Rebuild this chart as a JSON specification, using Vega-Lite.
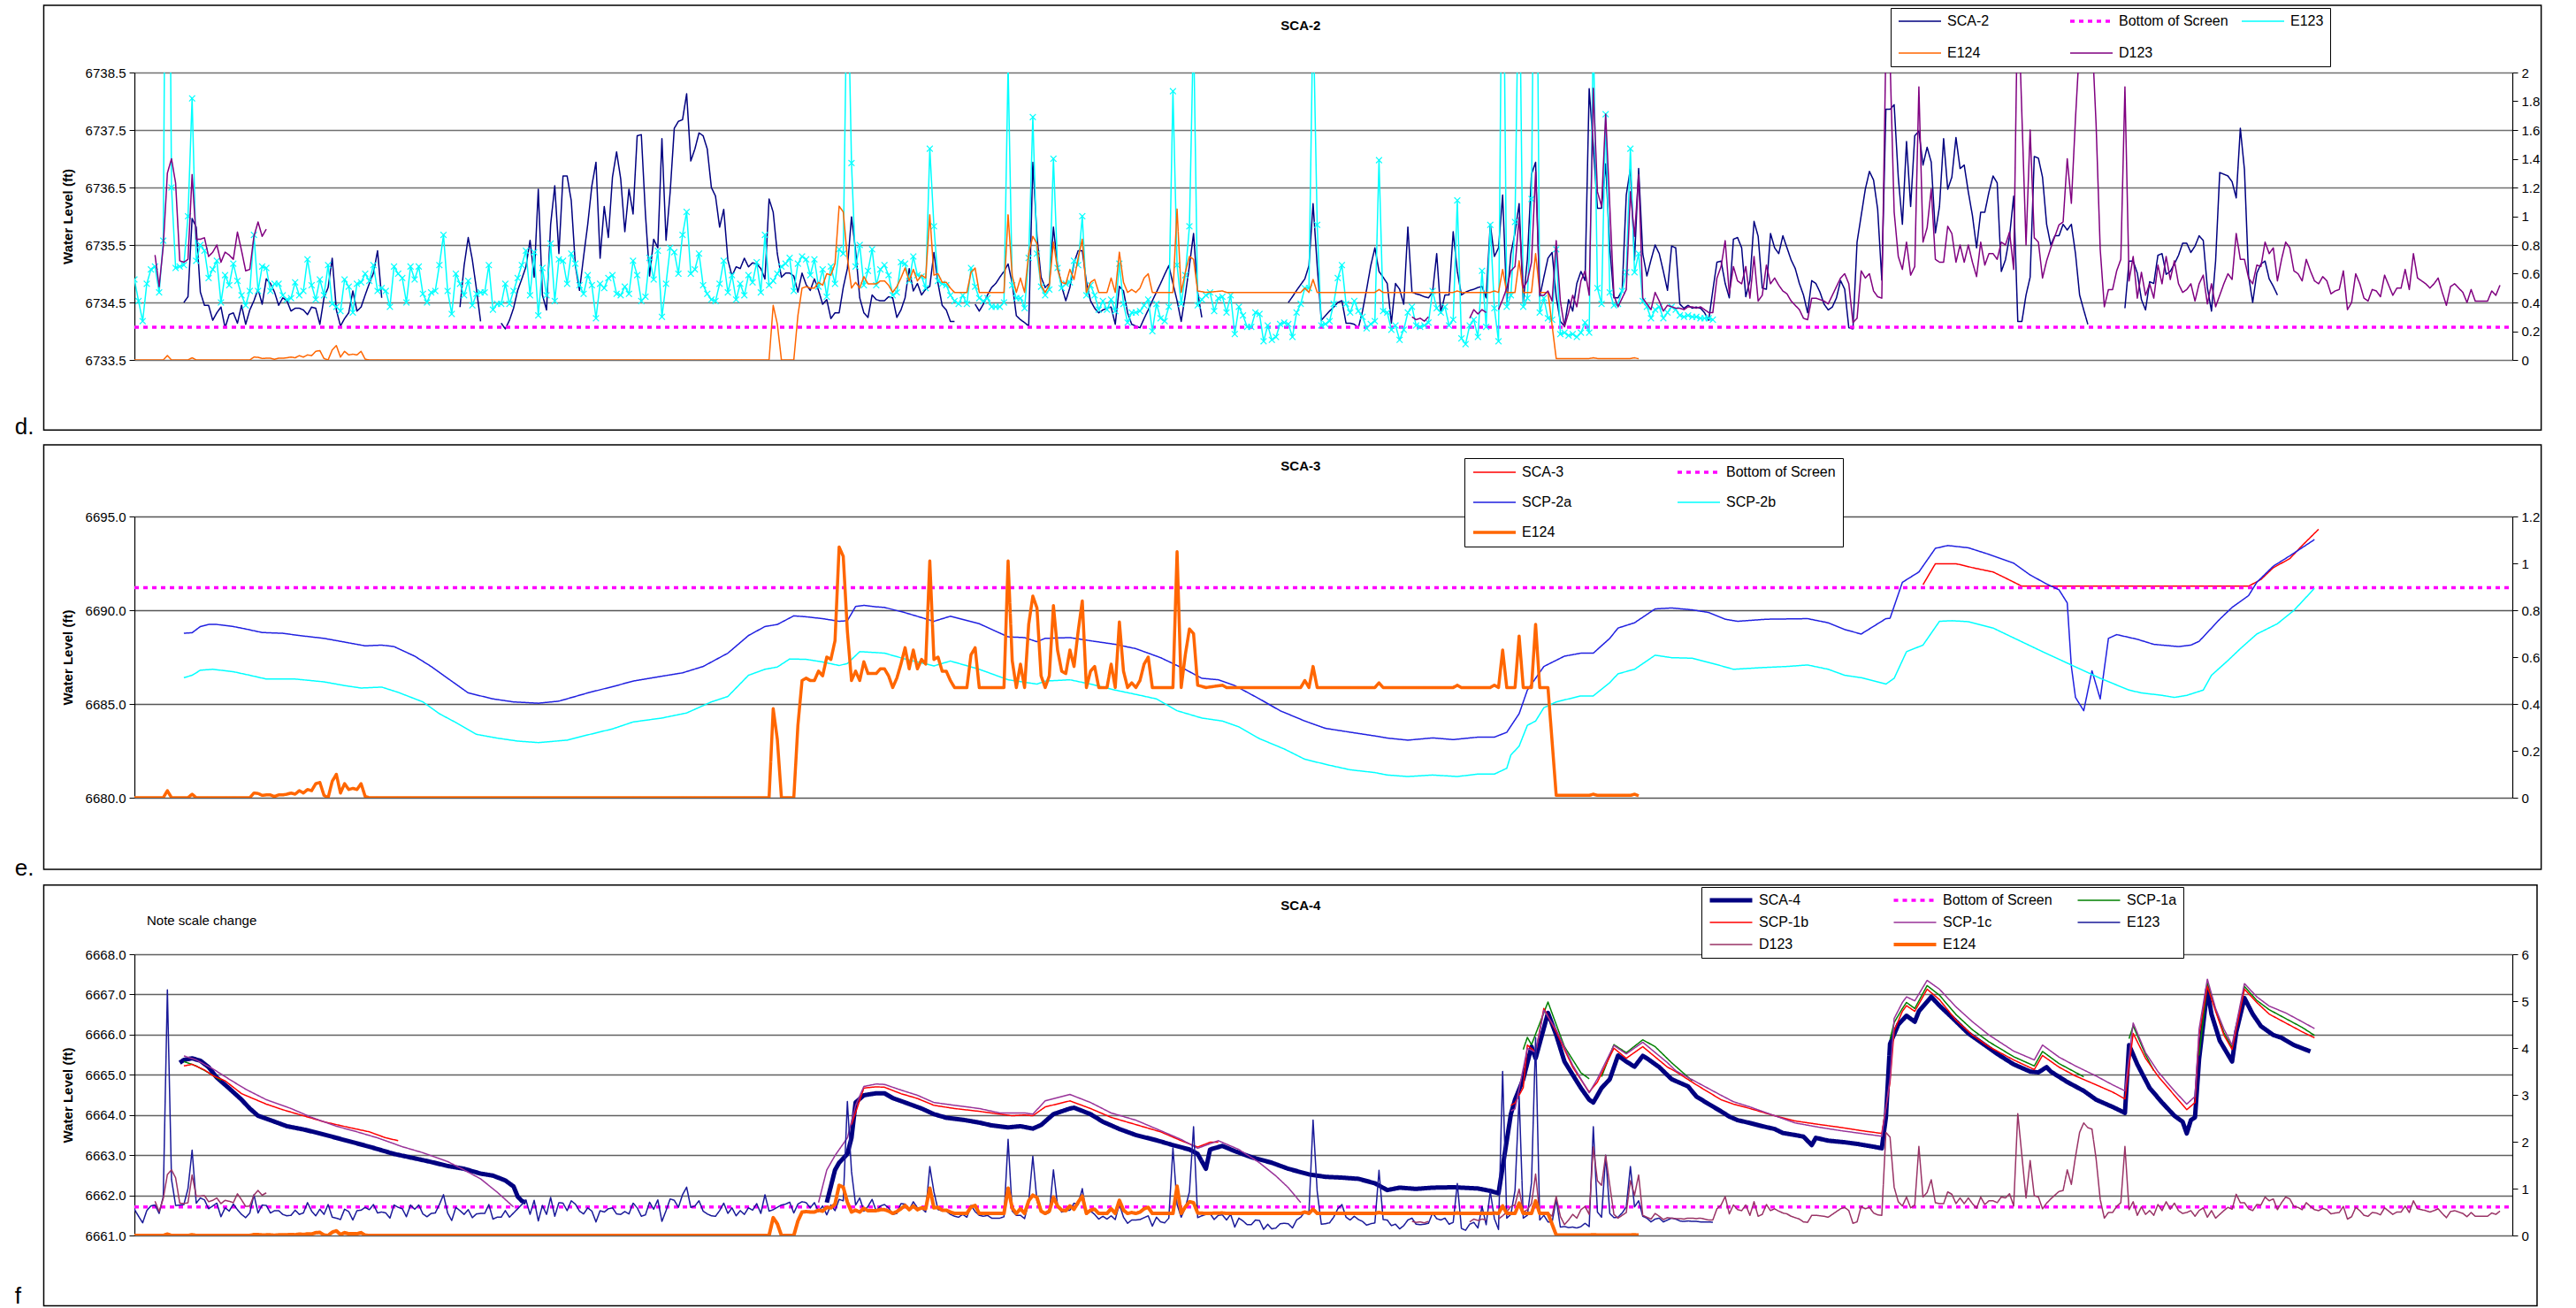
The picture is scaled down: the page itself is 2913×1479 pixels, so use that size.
{
"$schema":"https://vega.github.io/schema/vega-lite/v6.json",
"padding":{"left":16,"top":5,"right":5,"bottom":0},
"background":"white",
"spacing":177,
"bounds":"flush",
"resolve":{"scale":{"color":"independent","strokeDash":"independent","strokeWidth":"independent"},"legend":{"color":"independent","strokeDash":"independent","strokeWidth":"independent"}},
"datasets":{
"E123":[{"d":"2006-10-01","E123":0.56},{"d":"2006-10-02","E123":0.41},{"d":"2006-10-03","E123":0.27},{"d":"2006-10-04","E123":0.53},{"d":"2006-10-05","E123":0.63},{"d":"2006-10-06","E123":0.65},{"d":"2006-10-07","E123":0.47},{"d":"2006-10-08","E123":0.83},{"d":"2006-10-09","E123":5.24},{"d":"2006-10-10","E123":1.2},{"d":"2006-10-11","E123":0.64},{"d":"2006-10-12","E123":0.65},{"d":"2006-10-13","E123":0.66},{"d":"2006-10-14","E123":1.0},{"d":"2006-10-15","E123":1.82},{"d":"2006-10-16","E123":0.69},{"d":"2006-10-17","E123":0.8},{"d":"2006-10-18","E123":0.76},{"d":"2006-10-19","E123":0.57},{"d":"2006-10-20","E123":0.63},{"d":"2006-10-21","E123":0.69},{"d":"2006-10-22","E123":0.4},{"d":"2006-10-23","E123":0.59},{"d":"2006-10-24","E123":0.52},{"d":"2006-10-25","E123":0.67},{"d":"2006-10-26","E123":0.55},{"d":"2006-10-27","E123":0.45},{"d":"2006-10-28","E123":0.38},{"d":"2006-10-29","E123":0.48},{"d":"2006-10-30","E123":0.87},{"d":"2006-10-31","E123":0.48},{"d":"2006-11-01","E123":0.65},{"d":"2006-11-02","E123":0.64},{"d":"2006-11-03","E123":0.48},{"d":"2006-11-04","E123":0.53},{"d":"2006-11-05","E123":0.53},{"d":"2006-11-06","E123":0.45},{"d":"2006-11-07","E123":0.42},{"d":"2006-11-08","E123":0.43},{"d":"2006-11-09","E123":0.54},{"d":"2006-11-10","E123":0.45},{"d":"2006-11-11","E123":0.48},{"d":"2006-11-12","E123":0.7},{"d":"2006-11-13","E123":0.52},{"d":"2006-11-14","E123":0.42},{"d":"2006-11-15","E123":0.56},{"d":"2006-11-16","E123":0.45},{"d":"2006-11-17","E123":0.66},{"d":"2006-11-18","E123":0.39},{"d":"2006-11-19","E123":0.37},{"d":"2006-11-20","E123":0.34},{"d":"2006-11-21","E123":0.56},{"d":"2006-11-22","E123":0.51},{"d":"2006-11-23","E123":0.33},{"d":"2006-11-24","E123":0.53},{"d":"2006-11-25","E123":0.54},{"d":"2006-11-26","E123":0.6},{"d":"2006-11-27","E123":0.55},{"d":"2006-11-28","E123":0.66},{"d":"2006-11-29","E123":0.48},{"d":"2006-11-30","E123":0.5},{"d":"2006-12-01","E123":0.48},{"d":"2006-12-02","E123":0.37},{"d":"2006-12-03","E123":0.65},{"d":"2006-12-04","E123":0.6},{"d":"2006-12-05","E123":0.57},{"d":"2006-12-06","E123":0.4},{"d":"2006-12-07","E123":0.65},{"d":"2006-12-08","E123":0.56},{"d":"2006-12-09","E123":0.65},{"d":"2006-12-10","E123":0.46},{"d":"2006-12-11","E123":0.4},{"d":"2006-12-12","E123":0.47},{"d":"2006-12-13","E123":0.48},{"d":"2006-12-14","E123":0.66},{"d":"2006-12-15","E123":0.87},{"d":"2006-12-16","E123":0.48},{"d":"2006-12-17","E123":0.32},{"d":"2006-12-18","E123":0.6},{"d":"2006-12-19","E123":0.53},{"d":"2006-12-20","E123":0.45},{"d":"2006-12-21","E123":0.55},{"d":"2006-12-22","E123":0.38},{"d":"2006-12-23","E123":0.46},{"d":"2006-12-24","E123":0.47},{"d":"2006-12-25","E123":0.47},{"d":"2006-12-26","E123":0.66},{"d":"2006-12-27","E123":0.35},{"d":"2006-12-28","E123":0.39},{"d":"2006-12-29","E123":0.39},{"d":"2006-12-30","E123":0.53},{"d":"2006-12-31","E123":0.39},{"d":"2007-01-01","E123":0.48},{"d":"2007-01-02","E123":0.57},{"d":"2007-01-03","E123":0.66},{"d":"2007-01-04","E123":0.76},{"d":"2007-01-05","E123":0.45},{"d":"2007-01-06","E123":0.75},{"d":"2007-01-07","E123":0.31},{"d":"2007-01-08","E123":0.64},{"d":"2007-01-09","E123":0.45},{"d":"2007-01-10","E123":0.81},{"d":"2007-01-11","E123":0.41},{"d":"2007-01-12","E123":0.7},{"d":"2007-01-13","E123":0.69},{"d":"2007-01-14","E123":0.53},{"d":"2007-01-15","E123":0.74},{"d":"2007-01-16","E123":0.67},{"d":"2007-01-17","E123":0.52},{"d":"2007-01-18","E123":0.46},{"d":"2007-01-19","E123":0.59},{"d":"2007-01-20","E123":0.52},{"d":"2007-01-21","E123":0.29},{"d":"2007-01-22","E123":0.53},{"d":"2007-01-23","E123":0.5},{"d":"2007-01-24","E123":0.57},{"d":"2007-01-25","E123":0.59},{"d":"2007-01-26","E123":0.46},{"d":"2007-01-27","E123":0.45},{"d":"2007-01-28","E123":0.51},{"d":"2007-01-29","E123":0.46},{"d":"2007-01-30","E123":0.69},{"d":"2007-01-31","E123":0.59},{"d":"2007-02-01","E123":0.41},{"d":"2007-02-02","E123":0.44},{"d":"2007-02-03","E123":0.71},{"d":"2007-02-04","E123":0.56},{"d":"2007-02-05","E123":0.76},{"d":"2007-02-06","E123":0.3},{"d":"2007-02-07","E123":0.53},{"d":"2007-02-08","E123":0.78},{"d":"2007-02-09","E123":0.75},{"d":"2007-02-10","E123":0.6},{"d":"2007-02-11","E123":0.87},{"d":"2007-02-12","E123":1.03},{"d":"2007-02-13","E123":0.6},{"d":"2007-02-14","E123":0.63},{"d":"2007-02-15","E123":0.74},{"d":"2007-02-16","E123":0.52},{"d":"2007-02-17","E123":0.46},{"d":"2007-02-18","E123":0.42},{"d":"2007-02-19","E123":0.41},{"d":"2007-02-20","E123":0.53},{"d":"2007-02-21","E123":0.69},{"d":"2007-02-22","E123":0.47},{"d":"2007-02-23","E123":0.59},{"d":"2007-02-24","E123":0.42},{"d":"2007-02-25","E123":0.53},{"d":"2007-02-26","E123":0.45},{"d":"2007-02-27","E123":0.59},{"d":"2007-02-28","E123":0.54},{"d":"2007-03-01","E123":0.68},{"d":"2007-03-02","E123":0.47},{"d":"2007-03-03","E123":0.87},{"d":"2007-03-04","E123":0.52},{"d":"2007-03-05","E123":0.55},{"d":"2007-03-06","E123":0.6},{"d":"2007-03-07","E123":0.65},{"d":"2007-03-08","E123":0.67},{"d":"2007-03-09","E123":0.71},{"d":"2007-03-10","E123":0.48},{"d":"2007-03-11","E123":0.67},{"d":"2007-03-12","E123":0.72},{"d":"2007-03-13","E123":0.7},{"d":"2007-03-14","E123":0.59},{"d":"2007-03-15","E123":0.7},{"d":"2007-03-16","E123":0.51},{"d":"2007-03-17","E123":0.63},{"d":"2007-03-18","E123":0.44},{"d":"2007-03-19","E123":0.65},{"d":"2007-03-20","E123":0.53},{"d":"2007-03-21","E123":0.77},{"d":"2007-03-22","E123":0.74},{"d":"2007-03-23","E123":2.86},{"d":"2007-03-24","E123":1.37},{"d":"2007-03-25","E123":0.65},{"d":"2007-03-26","E123":0.8},{"d":"2007-03-27","E123":0.52},{"d":"2007-03-28","E123":0.62},{"d":"2007-03-29","E123":0.77},{"d":"2007-03-30","E123":0.52},{"d":"2007-03-31","E123":0.63},{"d":"2007-04-01","E123":0.66},{"d":"2007-04-02","E123":0.59},{"d":"2007-04-03","E123":0.45},{"d":"2007-04-04","E123":0.47},{"d":"2007-04-05","E123":0.68},{"d":"2007-04-06","E123":0.67},{"d":"2007-04-07","E123":0.55},{"d":"2007-04-08","E123":0.72},{"d":"2007-04-09","E123":0.59},{"d":"2007-04-10","E123":0.58},{"d":"2007-04-11","E123":0.5},{"d":"2007-04-12","E123":1.47},{"d":"2007-04-13","E123":0.93},{"d":"2007-04-14","E123":0.55},{"d":"2007-04-15","E123":0.53},{"d":"2007-04-16","E123":0.52},{"d":"2007-04-17","E123":0.45},{"d":"2007-04-18","E123":0.41},{"d":"2007-04-19","E123":0.39},{"d":"2007-04-20","E123":0.45},{"d":"2007-04-21","E123":0.39},{"d":"2007-04-22","E123":0.64},{"d":"2007-04-23","E123":0.51},{"d":"2007-04-24","E123":0.43},{"d":"2007-04-25","E123":0.41},{"d":"2007-04-26","E123":0.43},{"d":"2007-04-27","E123":0.37},{"d":"2007-04-28","E123":0.37},{"d":"2007-04-29","E123":0.37},{"d":"2007-04-30","E123":0.4},{"d":"2007-05-01","E123":2.05},{"d":"2007-05-02","E123":0.52},{"d":"2007-05-03","E123":0.43},{"d":"2007-05-04","E123":0.43},{"d":"2007-05-05","E123":0.36},{"d":"2007-05-06","E123":0.71},{"d":"2007-05-07","E123":1.69},{"d":"2007-05-08","E123":0.74},{"d":"2007-05-09","E123":0.51},{"d":"2007-05-10","E123":0.45},{"d":"2007-05-11","E123":0.49},{"d":"2007-05-12","E123":1.4},{"d":"2007-05-13","E123":0.64},{"d":"2007-05-14","E123":0.5},{"d":"2007-05-15","E123":0.53},{"d":"2007-05-16","E123":0.54},{"d":"2007-05-17","E123":0.69},{"d":"2007-05-18","E123":0.66},{"d":"2007-05-19","E123":1.0},{"d":"2007-05-20","E123":0.45},{"d":"2007-05-21","E123":0.52},{"d":"2007-05-22","E123":0.45},{"d":"2007-05-23","E123":0.35},{"d":"2007-05-24","E123":0.41},{"d":"2007-05-25","E123":0.35},{"d":"2007-05-26","E123":0.42},{"d":"2007-05-27","E123":0.34},{"d":"2007-05-28","E123":0.67},{"d":"2007-05-29","E123":0.39},{"d":"2007-05-30","E123":0.26},{"d":"2007-05-31","E123":0.33},{"d":"2007-06-01","E123":0.33},{"d":"2007-06-02","E123":0.34},{"d":"2007-06-03","E123":0.38},{"d":"2007-06-04","E123":0.42},{"d":"2007-06-05","E123":0.2},{"d":"2007-06-06","E123":0.39},{"d":"2007-06-07","E123":0.29},{"d":"2007-06-08","E123":0.27},{"d":"2007-06-09","E123":0.37},{"d":"2007-06-10","E123":1.87},{"d":"2007-06-11","E123":0.66},{"d":"2007-06-12","E123":0.39},{"d":"2007-06-13","E123":0.59},{"d":"2007-06-14","E123":0.93},{"d":"2007-06-15","E123":2.32},{"d":"2007-06-16","E123":0.38},{"d":"2007-06-17","E123":0.42},{"d":"2007-06-18","E123":0.45},{"d":"2007-06-19","E123":0.47},{"d":"2007-06-20","E123":0.34},{"d":"2007-06-21","E123":0.43},{"d":"2007-06-22","E123":0.44},{"d":"2007-06-23","E123":0.33},{"d":"2007-06-24","E123":0.45},{"d":"2007-06-25","E123":0.18},{"d":"2007-06-26","E123":0.37},{"d":"2007-06-27","E123":0.31},{"d":"2007-06-28","E123":0.23},{"d":"2007-06-29","E123":0.23},{"d":"2007-06-30","E123":0.33},{"d":"2007-07-01","E123":0.32},{"d":"2007-07-02","E123":0.13},{"d":"2007-07-03","E123":0.24},{"d":"2007-07-04","E123":0.14},{"d":"2007-07-05","E123":0.16},{"d":"2007-07-06","E123":0.25},{"d":"2007-07-07","E123":0.26},{"d":"2007-07-08","E123":0.25},{"d":"2007-07-09","E123":0.16},{"d":"2007-07-10","E123":0.33},{"d":"2007-07-11","E123":0.39},{"d":"2007-07-12","E123":0.5},{"d":"2007-07-13","E123":0.5},{"d":"2007-07-14","E123":2.46},{"d":"2007-07-15","E123":0.94},{"d":"2007-07-16","E123":0.24},{"d":"2007-07-17","E123":0.25},{"d":"2007-07-18","E123":0.27},{"d":"2007-07-19","E123":0.39},{"d":"2007-07-20","E123":0.57},{"d":"2007-07-21","E123":0.66},{"d":"2007-07-22","E123":0.39},{"d":"2007-07-23","E123":0.33},{"d":"2007-07-24","E123":0.41},{"d":"2007-07-25","E123":0.34},{"d":"2007-07-26","E123":0.3},{"d":"2007-07-27","E123":0.22},{"d":"2007-07-28","E123":0.25},{"d":"2007-07-29","E123":0.27},{"d":"2007-07-30","E123":1.39},{"d":"2007-07-31","E123":0.34},{"d":"2007-08-01","E123":0.33},{"d":"2007-08-02","E123":0.21},{"d":"2007-08-03","E123":0.24},{"d":"2007-08-04","E123":0.14},{"d":"2007-08-05","E123":0.21},{"d":"2007-08-06","E123":0.33},{"d":"2007-08-07","E123":0.37},{"d":"2007-08-08","E123":0.24},{"d":"2007-08-09","E123":0.23},{"d":"2007-08-10","E123":0.24},{"d":"2007-08-11","E123":0.26},{"d":"2007-08-12","E123":0.48},{"d":"2007-08-13","E123":0.36},{"d":"2007-08-14","E123":0.33},{"d":"2007-08-15","E123":0.37},{"d":"2007-08-16","E123":0.24},{"d":"2007-08-17","E123":0.28},{"d":"2007-08-18","E123":1.11},{"d":"2007-08-19","E123":0.15},{"d":"2007-08-20","E123":0.11},{"d":"2007-08-21","E123":0.24},{"d":"2007-08-22","E123":0.28},{"d":"2007-08-23","E123":0.16},{"d":"2007-08-24","E123":0.62},{"d":"2007-08-25","E123":0.23},{"d":"2007-08-26","E123":0.94},{"d":"2007-08-27","E123":0.36},{"d":"2007-08-28","E123":0.13},{"d":"2007-08-29","E123":3.5},{"d":"2007-08-30","E123":0.37},{"d":"2007-08-31","E123":0.45},{"d":"2007-09-01","E123":0.96},{"d":"2007-09-02","E123":2.97},{"d":"2007-09-03","E123":0.37},{"d":"2007-09-04","E123":0.43},{"d":"2007-09-05","E123":1.12},{"d":"2007-09-06","E123":4.22},{"d":"2007-09-07","E123":0.33},{"d":"2007-09-08","E123":0.43},{"d":"2007-09-09","E123":0.29},{"d":"2007-09-10","E123":0.28},{"d":"2007-09-11","E123":0.77},{"d":"2007-09-12","E123":0.18},{"d":"2007-09-13","E123":0.19},{"d":"2007-09-14","E123":0.17},{"d":"2007-09-15","E123":0.18},{"d":"2007-09-16","E123":0.16},{"d":"2007-09-17","E123":0.19},{"d":"2007-09-18","E123":0.26},{"d":"2007-09-19","E123":0.19},{"d":"2007-09-20","E123":2.32},{"d":"2007-09-21","E123":0.5},{"d":"2007-09-22","E123":0.39},{"d":"2007-09-23","E123":1.71},{"d":"2007-09-24","E123":0.47},{"d":"2007-09-25","E123":0.38},{"d":"2007-09-26","E123":0.39},{"d":"2007-09-27","E123":0.48},{"d":"2007-09-28","E123":0.61},{"d":"2007-09-29","E123":1.47},{"d":"2007-09-30","E123":0.61},{"d":"2007-10-01","E123":0.74},{"d":"2007-10-02","E123":0.41},{"d":"2007-10-03","E123":0.37},{"d":"2007-10-04","E123":0.29},{"d":"2007-10-05","E123":0.35},{"d":"2007-10-06","E123":0.37},{"d":"2007-10-07","E123":0.29},{"d":"2007-10-08","E123":0.33},{"d":"2007-10-09","E123":0.37},{"d":"2007-10-10","E123":0.35},{"d":"2007-10-11","E123":0.31},{"d":"2007-10-12","E123":0.3},{"d":"2007-10-13","E123":0.31},{"d":"2007-10-14","E123":0.3},{"d":"2007-10-15","E123":0.3},{"d":"2007-10-16","E123":0.29},{"d":"2007-10-17","E123":0.29},{"d":"2007-10-18","E123":0.29},{"d":"2007-10-19","E123":0.28}],
"E124":[{"d":"2006-10-01","E124":0},{"d":"2006-10-08","E124":0},{"d":"2006-10-09","E124":0.03},{"d":"2006-10-10","E124":0},{"d":"2006-10-14","E124":0},{"d":"2006-10-15","E124":0.015},{"d":"2006-10-16","E124":0},{"d":"2006-10-29","E124":0},{"d":"2006-10-30","E124":0.02},{"d":"2006-10-31","E124":0.018},{"d":"2006-11-01","E124":0.01},{"d":"2006-11-02","E124":0.012},{"d":"2006-11-03","E124":0.012},{"d":"2006-11-04","E124":0.005},{"d":"2006-11-05","E124":0.012},{"d":"2006-11-06","E124":0.012},{"d":"2006-11-07","E124":0.015},{"d":"2006-11-08","E124":0.02},{"d":"2006-11-09","E124":0.015},{"d":"2006-11-10","E124":0.03},{"d":"2006-11-11","E124":0.02},{"d":"2006-11-12","E124":0.035},{"d":"2006-11-13","E124":0.03},{"d":"2006-11-14","E124":0.06},{"d":"2006-11-15","E124":0.065},{"d":"2006-11-16","E124":0.01},{"d":"2006-11-17","E124":0},{"d":"2006-11-18","E124":0.07},{"d":"2006-11-19","E124":0.1},{"d":"2006-11-20","E124":0.02},{"d":"2006-11-21","E124":0.06},{"d":"2006-11-22","E124":0.035},{"d":"2006-11-23","E124":0.04},{"d":"2006-11-24","E124":0.035},{"d":"2006-11-25","E124":0.06},{"d":"2006-11-26","E124":0.005},{"d":"2006-11-27","E124":0},{"d":"2007-03-04","E124":0},{"d":"2007-03-05","E124":0.38},{"d":"2007-03-06","E124":0.25},{"d":"2007-03-07","E124":0},{"d":"2007-03-10","E124":0},{"d":"2007-03-11","E124":0.31},{"d":"2007-03-12","E124":0.5},{"d":"2007-03-13","E124":0.51},{"d":"2007-03-14","E124":0.5},{"d":"2007-03-15","E124":0.5},{"d":"2007-03-16","E124":0.54},{"d":"2007-03-17","E124":0.52},{"d":"2007-03-18","E124":0.6},{"d":"2007-03-19","E124":0.59},{"d":"2007-03-20","E124":0.67},{"d":"2007-03-21","E124":1.07},{"d":"2007-03-22","E124":1.03},{"d":"2007-03-23","E124":0.71},{"d":"2007-03-24","E124":0.5},{"d":"2007-03-25","E124":0.54},{"d":"2007-03-26","E124":0.5},{"d":"2007-03-27","E124":0.58},{"d":"2007-03-28","E124":0.53},{"d":"2007-03-29","E124":0.53},{"d":"2007-03-30","E124":0.53},{"d":"2007-03-31","E124":0.55},{"d":"2007-04-01","E124":0.55},{"d":"2007-04-02","E124":0.52},{"d":"2007-04-03","E124":0.47},{"d":"2007-04-04","E124":0.51},{"d":"2007-04-05","E124":0.57},{"d":"2007-04-06","E124":0.64},{"d":"2007-04-07","E124":0.55},{"d":"2007-04-08","E124":0.63},{"d":"2007-04-09","E124":0.55},{"d":"2007-04-10","E124":0.59},{"d":"2007-04-11","E124":0.57},{"d":"2007-04-12","E124":1.01},{"d":"2007-04-13","E124":0.59},{"d":"2007-04-14","E124":0.6},{"d":"2007-04-15","E124":0.54},{"d":"2007-04-16","E124":0.54},{"d":"2007-04-17","E124":0.5},{"d":"2007-04-18","E124":0.47},{"d":"2007-04-21","E124":0.47},{"d":"2007-04-22","E124":0.61},{"d":"2007-04-23","E124":0.64},{"d":"2007-04-24","E124":0.47},{"d":"2007-04-30","E124":0.47},{"d":"2007-05-01","E124":1.01},{"d":"2007-05-02","E124":0.585},{"d":"2007-05-03","E124":0.47},{"d":"2007-05-04","E124":0.57},{"d":"2007-05-05","E124":0.47},{"d":"2007-05-06","E124":0.74},{"d":"2007-05-07","E124":0.86},{"d":"2007-05-08","E124":0.81},{"d":"2007-05-09","E124":0.52},{"d":"2007-05-10","E124":0.47},{"d":"2007-05-11","E124":0.52},{"d":"2007-05-12","E124":0.82},{"d":"2007-05-13","E124":0.63},{"d":"2007-05-14","E124":0.54},{"d":"2007-05-15","E124":0.53},{"d":"2007-05-16","E124":0.63},{"d":"2007-05-17","E124":0.56},{"d":"2007-05-18","E124":0.71},{"d":"2007-05-19","E124":0.84},{"d":"2007-05-20","E124":0.47},{"d":"2007-05-21","E124":0.54},{"d":"2007-05-22","E124":0.56},{"d":"2007-05-23","E124":0.47},{"d":"2007-05-25","E124":0.47},{"d":"2007-05-26","E124":0.57},{"d":"2007-05-27","E124":0.47},{"d":"2007-05-28","E124":0.75},{"d":"2007-05-29","E124":0.54},{"d":"2007-05-30","E124":0.47},{"d":"2007-05-31","E124":0.49},{"d":"2007-06-01","E124":0.47},{"d":"2007-06-02","E124":0.5},{"d":"2007-06-03","E124":0.57},{"d":"2007-06-04","E124":0.6},{"d":"2007-06-05","E124":0.47},{"d":"2007-06-10","E124":0.47},{"d":"2007-06-11","E124":1.05},{"d":"2007-06-12","E124":0.47},{"d":"2007-06-13","E124":0.61},{"d":"2007-06-14","E124":0.72},{"d":"2007-06-15","E124":0.7},{"d":"2007-06-16","E124":0.48},{"d":"2007-06-18","E124":0.47},{"d":"2007-06-22","E124":0.48},{"d":"2007-06-23","E124":0.47},{"d":"2007-07-11","E124":0.47},{"d":"2007-07-12","E124":0.5},{"d":"2007-07-13","E124":0.47},{"d":"2007-07-14","E124":0.56},{"d":"2007-07-15","E124":0.47},{"d":"2007-07-29","E124":0.47},{"d":"2007-07-30","E124":0.49},{"d":"2007-07-31","E124":0.47},{"d":"2007-08-17","E124":0.47},{"d":"2007-08-18","E124":0.48},{"d":"2007-08-19","E124":0.47},{"d":"2007-08-26","E124":0.47},{"d":"2007-08-27","E124":0.48},{"d":"2007-08-28","E124":0.47},{"d":"2007-08-29","E124":0.63},{"d":"2007-08-30","E124":0.47},{"d":"2007-09-01","E124":0.47},{"d":"2007-09-02","E124":0.69},{"d":"2007-09-03","E124":0.47},{"d":"2007-09-05","E124":0.47},{"d":"2007-09-06","E124":0.74},{"d":"2007-09-07","E124":0.47},{"d":"2007-09-09","E124":0.47},{"d":"2007-09-11","E124":0.01},{"d":"2007-09-19","E124":0.01},{"d":"2007-09-20","E124":0.015},{"d":"2007-09-21","E124":0.01},{"d":"2007-09-29","E124":0.01},{"d":"2007-09-30","E124":0.015},{"d":"2007-10-01","E124":0.008}],
"D123":[{"d":"2006-10-06","D123":0.73},{"d":"2006-10-07","D123":0.51},{"d":"2006-10-08","D123":0.79},{"d":"2006-10-09","D123":1.3},{"d":"2006-10-10","D123":1.4},{"d":"2006-10-11","D123":1.23},{"d":"2006-10-12","D123":0.69},{"d":"2006-10-13","D123":0.68},{"d":"2006-10-14","D123":0.7},{"d":"2006-10-15","D123":1.29},{"d":"2006-10-16","D123":0.84},{"d":"2006-10-17","D123":0.84},{"d":"2006-10-18","D123":0.85},{"d":"2006-10-19","D123":0.72},{"d":"2006-10-20","D123":0.75},{"d":"2006-10-21","D123":0.8},{"d":"2006-10-22","D123":0.68},{"d":"2006-10-23","D123":0.75},{"d":"2006-10-24","D123":0.73},{"d":"2006-10-25","D123":0.7},{"d":"2006-10-26","D123":0.89},{"d":"2006-10-27","D123":0.76},{"d":"2006-10-28","D123":0.62},{"d":"2006-10-29","D123":0.63},{"d":"2006-10-30","D123":0.86},{"d":"2006-10-31","D123":0.96},{"d":"2006-11-01","D123":0.86},{"d":"2006-11-02","D123":0.91},{"d":"2006-11-03","D123":null},{"d":"2007-08-07","D123":0.3},{"d":"2007-08-08","D123":0.28},{"d":"2007-08-09","D123":0.29},{"d":"2007-08-10","D123":0.27},{"d":"2007-08-11","D123":0.3},{"d":"2007-08-12","D123":null},{"d":"2007-08-21","D123":0.29},{"d":"2007-08-22","D123":0.35},{"d":"2007-08-23","D123":0.32},{"d":"2007-08-24","D123":0.35},{"d":"2007-08-25","D123":0.33},{"d":"2007-08-26","D123":null},{"d":"2007-08-28","D123":0.35},{"d":"2007-08-29","D123":0.42},{"d":"2007-08-30","D123":0.5},{"d":"2007-08-31","D123":0.62},{"d":"2007-09-01","D123":0.65},{"d":"2007-09-02","D123":0.99},{"d":"2007-09-03","D123":0.5},{"d":"2007-09-04","D123":0.55},{"d":"2007-09-05","D123":0.68},{"d":"2007-09-06","D123":1.31},{"d":"2007-09-07","D123":0.45},{"d":"2007-09-08","D123":0.45},{"d":"2007-09-09","D123":0.48},{"d":"2007-09-10","D123":0.41},{"d":"2007-09-11","D123":0.83},{"d":"2007-09-12","D123":0.41},{"d":"2007-09-13","D123":0.23},{"d":"2007-09-14","D123":0.33},{"d":"2007-09-15","D123":0.45},{"d":"2007-09-16","D123":0.37},{"d":"2007-09-17","D123":0.55},{"d":"2007-09-18","D123":0.62},{"d":"2007-09-19","D123":0.45},{"d":"2007-09-20","D123":1.89},{"d":"2007-09-21","D123":1.17},{"d":"2007-09-22","D123":1.07},{"d":"2007-09-23","D123":1.71},{"d":"2007-09-24","D123":1.07},{"d":"2007-09-25","D123":0.45},{"d":"2007-09-26","D123":0.37},{"d":"2007-09-27","D123":0.43},{"d":"2007-09-28","D123":0.49},{"d":"2007-09-29","D123":1.17},{"d":"2007-09-30","D123":0.86},{"d":"2007-10-01","D123":1.29},{"d":"2007-10-02","D123":0.43},{"d":"2007-10-03","D123":0.39},{"d":"2007-10-04","D123":0.35},{"d":"2007-10-05","D123":0.47},{"d":"2007-10-06","D123":0.41},{"d":"2007-10-07","D123":0.34},{"d":"2007-10-08","D123":0.38},{"d":"2007-10-09","D123":0.37},{"d":"2007-10-10","D123":0.36},{"d":"2007-10-11","D123":0.36},{"d":"2007-10-12","D123":0.35},{"d":"2007-10-13","D123":0.37},{"d":"2007-10-14","D123":0.37},{"d":"2007-10-15","D123":0.36},{"d":"2007-10-16","D123":0.37},{"d":"2007-10-17","D123":0.35},{"d":"2007-10-18","D123":0.33},{"d":"2007-10-19","D123":0.33},{"d":"2007-10-20","D123":0.57},{"d":"2007-10-21","D123":0.65},{"d":"2007-10-22","D123":0.83},{"d":"2007-10-23","D123":0.46},{"d":"2007-10-24","D123":0.65},{"d":"2007-10-25","D123":0.55},{"d":"2007-10-26","D123":0.53},{"d":"2007-10-27","D123":0.65},{"d":"2007-10-28","D123":0.43},{"d":"2007-10-29","D123":0.72},{"d":"2007-10-30","D123":0.41},{"d":"2007-10-31","D123":0.45},{"d":"2007-11-01","D123":0.66},{"d":"2007-11-02","D123":0.53},{"d":"2007-11-03","D123":0.57},{"d":"2007-11-04","D123":0.52},{"d":"2007-11-05","D123":0.48},{"d":"2007-11-06","D123":0.46},{"d":"2007-11-07","D123":0.41},{"d":"2007-11-08","D123":0.38},{"d":"2007-11-09","D123":0.35},{"d":"2007-11-10","D123":0.29},{"d":"2007-11-11","D123":0.28},{"d":"2007-11-12","D123":0.43},{"d":"2007-11-13","D123":0.43},{"d":"2007-11-14","D123":0.42},{"d":"2007-11-15","D123":0.41},{"d":"2007-11-16","D123":0.39},{"d":"2007-11-17","D123":0.45},{"d":"2007-11-18","D123":0.51},{"d":"2007-11-19","D123":0.57},{"d":"2007-11-20","D123":0.6},{"d":"2007-11-21","D123":0.53},{"d":"2007-11-22","D123":0.26},{"d":"2007-11-23","D123":0.29},{"d":"2007-11-24","D123":0.62},{"d":"2007-11-25","D123":0.57},{"d":"2007-11-26","D123":0.6},{"d":"2007-11-27","D123":0.48},{"d":"2007-11-28","D123":0.44},{"d":"2007-11-29","D123":0.43},{"d":"2007-11-30","D123":2.2},{"d":"2007-12-01","D123":2.1},{"d":"2007-12-02","D123":1.03},{"d":"2007-12-03","D123":0.72},{"d":"2007-12-04","D123":0.63},{"d":"2007-12-05","D123":0.82},{"d":"2007-12-06","D123":0.59},{"d":"2007-12-07","D123":0.65},{"d":"2007-12-08","D123":1.9},{"d":"2007-12-09","D123":0.82},{"d":"2007-12-10","D123":0.92},{"d":"2007-12-11","D123":1.19},{"d":"2007-12-12","D123":0.7},{"d":"2007-12-13","D123":0.68},{"d":"2007-12-14","D123":0.68},{"d":"2007-12-15","D123":0.93},{"d":"2007-12-16","D123":0.88},{"d":"2007-12-17","D123":0.68},{"d":"2007-12-18","D123":0.8},{"d":"2007-12-19","D123":0.68},{"d":"2007-12-20","D123":0.8},{"d":"2007-12-21","D123":0.68},{"d":"2007-12-22","D123":0.58},{"d":"2007-12-23","D123":0.82},{"d":"2007-12-24","D123":0.66},{"d":"2007-12-25","D123":0.74},{"d":"2007-12-26","D123":0.74},{"d":"2007-12-27","D123":0.7},{"d":"2007-12-28","D123":0.82},{"d":"2007-12-29","D123":0.8},{"d":"2007-12-30","D123":0.89},{"d":"2007-12-31","D123":0.63},{"d":"2008-01-01","D123":2.6},{"d":"2008-01-02","D123":1.7},{"d":"2008-01-03","D123":0.8},{"d":"2008-01-04","D123":1.6},{"d":"2008-01-05","D123":0.85},{"d":"2008-01-06","D123":0.82},{"d":"2008-01-07","D123":0.57},{"d":"2008-01-08","D123":0.69},{"d":"2008-01-09","D123":0.78},{"d":"2008-01-10","D123":0.86},{"d":"2008-01-11","D123":0.94},{"d":"2008-01-12","D123":0.96},{"d":"2008-01-13","D123":1.4},{"d":"2008-01-14","D123":1.09},{"d":"2008-01-15","D123":1.68},{"d":"2008-01-16","D123":2.2},{"d":"2008-01-17","D123":2.4},{"d":"2008-01-18","D123":2.3},{"d":"2008-01-19","D123":2.27},{"d":"2008-01-20","D123":1.64},{"d":"2008-01-21","D123":0.77},{"d":"2008-01-22","D123":0.37},{"d":"2008-01-23","D123":0.49},{"d":"2008-01-24","D123":0.49},{"d":"2008-01-25","D123":0.62},{"d":"2008-01-26","D123":0.7},{"d":"2008-01-27","D123":1.9},{"d":"2008-01-28","D123":0.55},{"d":"2008-01-29","D123":0.72},{"d":"2008-01-30","D123":0.43},{"d":"2008-01-31","D123":0.61},{"d":"2008-02-01","D123":0.45},{"d":"2008-02-02","D123":0.53},{"d":"2008-02-03","D123":0.43},{"d":"2008-02-04","D123":0.66},{"d":"2008-02-05","D123":0.53},{"d":"2008-02-06","D123":0.72},{"d":"2008-02-07","D123":0.56},{"d":"2008-02-08","D123":0.69},{"d":"2008-02-09","D123":0.53},{"d":"2008-02-10","D123":0.47},{"d":"2008-02-11","D123":0.49},{"d":"2008-02-12","D123":0.53},{"d":"2008-02-13","D123":0.41},{"d":"2008-02-14","D123":0.53},{"d":"2008-02-15","D123":0.59},{"d":"2008-02-16","D123":0.39},{"d":"2008-02-17","D123":0.53},{"d":"2008-02-18","D123":0.37},{"d":"2008-02-19","D123":0.45},{"d":"2008-02-20","D123":0.53},{"d":"2008-02-21","D123":0.6},{"d":"2008-02-22","D123":0.56},{"d":"2008-02-23","D123":0.88},{"d":"2008-02-24","D123":0.7},{"d":"2008-02-25","D123":0.7},{"d":"2008-02-26","D123":0.57},{"d":"2008-02-27","D123":0.53},{"d":"2008-02-28","D123":0.66},{"d":"2008-02-29","D123":0.65},{"d":"2008-03-01","D123":0.82},{"d":"2008-03-02","D123":0.74},{"d":"2008-03-03","D123":0.78},{"d":"2008-03-04","D123":0.55},{"d":"2008-03-05","D123":0.7},{"d":"2008-03-06","D123":0.82},{"d":"2008-03-07","D123":0.78},{"d":"2008-03-08","D123":0.62},{"d":"2008-03-09","D123":0.6},{"d":"2008-03-10","D123":0.55},{"d":"2008-03-11","D123":0.7},{"d":"2008-03-12","D123":0.62},{"d":"2008-03-13","D123":0.55},{"d":"2008-03-14","D123":0.53},{"d":"2008-03-15","D123":0.58},{"d":"2008-03-16","D123":0.55},{"d":"2008-03-17","D123":0.46},{"d":"2008-03-18","D123":0.48},{"d":"2008-03-19","D123":0.49},{"d":"2008-03-20","D123":0.62},{"d":"2008-03-21","D123":0.35},{"d":"2008-03-22","D123":0.4},{"d":"2008-03-23","D123":0.6},{"d":"2008-03-24","D123":0.53},{"d":"2008-03-25","D123":0.43},{"d":"2008-03-26","D123":0.41},{"d":"2008-03-27","D123":0.49},{"d":"2008-03-28","D123":0.48},{"d":"2008-03-29","D123":0.44},{"d":"2008-03-30","D123":0.59},{"d":"2008-03-31","D123":0.52},{"d":"2008-04-01","D123":0.45},{"d":"2008-04-02","D123":0.5},{"d":"2008-04-03","D123":0.5},{"d":"2008-04-04","D123":0.63},{"d":"2008-04-05","D123":0.49},{"d":"2008-04-06","D123":0.74},{"d":"2008-04-07","D123":0.57},{"d":"2008-04-08","D123":0.55},{"d":"2008-04-09","D123":0.53},{"d":"2008-04-10","D123":0.5},{"d":"2008-04-11","D123":0.53},{"d":"2008-04-12","D123":0.57},{"d":"2008-04-13","D123":0.47},{"d":"2008-04-14","D123":0.38},{"d":"2008-04-15","D123":0.51},{"d":"2008-04-16","D123":0.53},{"d":"2008-04-17","D123":0.5},{"d":"2008-04-18","D123":0.47},{"d":"2008-04-19","D123":0.4},{"d":"2008-04-20","D123":0.49},{"d":"2008-04-21","D123":0.41},{"d":"2008-04-22","D123":0.41},{"d":"2008-04-23","D123":0.41},{"d":"2008-04-24","D123":0.41},{"d":"2008-04-25","D123":0.48},{"d":"2008-04-26","D123":0.45},{"d":"2008-04-27","D123":0.52}],
"SCA2":[{"d":"2006-10-13","SCA-2":6734.5},{"d":"2006-10-14","SCA-2":6734.6},{"d":"2006-10-15","SCA-2":6735.96},{"d":"2006-10-16","SCA-2":6735.81},{"d":"2006-10-17","SCA-2":6734.68},{"d":"2006-10-18","SCA-2":6734.45},{"d":"2006-10-19","SCA-2":6734.45},{"d":"2006-10-20","SCA-2":6734.19},{"d":"2006-10-21","SCA-2":6734.32},{"d":"2006-10-22","SCA-2":6734.42},{"d":"2006-10-23","SCA-2":6734.06},{"d":"2006-10-24","SCA-2":6734.29},{"d":"2006-10-25","SCA-2":6734.32},{"d":"2006-10-26","SCA-2":6734.14},{"d":"2006-10-27","SCA-2":6734.45},{"d":"2006-10-28","SCA-2":6734.12},{"d":"2006-10-29","SCA-2":6734.37},{"d":"2006-10-30","SCA-2":6734.53},{"d":"2006-10-31","SCA-2":6734.73},{"d":"2006-11-01","SCA-2":6734.47},{"d":"2006-11-02","SCA-2":6734.91},{"d":"2006-11-03","SCA-2":6734.83},{"d":"2006-11-04","SCA-2":6734.68},{"d":"2006-11-05","SCA-2":6734.45},{"d":"2006-11-06","SCA-2":6734.58},{"d":"2006-11-07","SCA-2":6734.53},{"d":"2006-11-08","SCA-2":6734.35},{"d":"2006-11-09","SCA-2":6734.4},{"d":"2006-11-10","SCA-2":6734.4},{"d":"2006-11-11","SCA-2":6734.37},{"d":"2006-11-12","SCA-2":6734.29},{"d":"2006-11-13","SCA-2":6734.42},{"d":"2006-11-14","SCA-2":6734.4},{"d":"2006-11-15","SCA-2":6734.12},{"d":"2006-11-16","SCA-2":6734.58},{"d":"2006-11-17","SCA-2":6734.76},{"d":"2006-11-18","SCA-2":6735.27},{"d":"2006-11-19","SCA-2":6734.37},{"d":"2006-11-20","SCA-2":6734.09},{"d":"2006-11-21","SCA-2":6734.22},{"d":"2006-11-22","SCA-2":6734.32},{"d":"2006-11-23","SCA-2":6734.7},{"d":"2006-11-24","SCA-2":6734.35},{"d":"2006-11-25","SCA-2":6734.42},{"d":"2006-11-26","SCA-2":6734.63},{"d":"2006-11-27","SCA-2":6734.83},{"d":"2006-11-28","SCA-2":6735.01},{"d":"2006-11-29","SCA-2":6735.4},{"d":"2006-11-30","SCA-2":6734.58},{"d":"2006-12-01","SCA-2":null},{"d":"2006-12-19","SCA-2":6734.42},{"d":"2006-12-20","SCA-2":6735.14},{"d":"2006-12-21","SCA-2":6735.63},{"d":"2006-12-22","SCA-2":6735.24},{"d":"2006-12-23","SCA-2":6734.73},{"d":"2006-12-24","SCA-2":6734.17},{"d":"2006-12-25","SCA-2":null},{"d":"2006-12-29","SCA-2":6734.14},{"d":"2006-12-30","SCA-2":6734.04},{"d":"2006-12-31","SCA-2":6734.19},{"d":"2007-01-01","SCA-2":6734.4},{"d":"2007-01-02","SCA-2":6734.71},{"d":"2007-01-03","SCA-2":6734.91},{"d":"2007-01-04","SCA-2":6735.12},{"d":"2007-01-05","SCA-2":6735.58},{"d":"2007-01-06","SCA-2":6734.94},{"d":"2007-01-07","SCA-2":6736.47},{"d":"2007-01-08","SCA-2":6734.63},{"d":"2007-01-09","SCA-2":6734.37},{"d":"2007-01-10","SCA-2":6735.86},{"d":"2007-01-11","SCA-2":6736.53},{"d":"2007-01-12","SCA-2":6735.35},{"d":"2007-01-13","SCA-2":6736.7},{"d":"2007-01-14","SCA-2":6736.7},{"d":"2007-01-15","SCA-2":6736.27},{"d":"2007-01-16","SCA-2":6735.14},{"d":"2007-01-17","SCA-2":6734.71},{"d":"2007-01-18","SCA-2":6735.3},{"d":"2007-01-19","SCA-2":6735.86},{"d":"2007-01-20","SCA-2":6736.53},{"d":"2007-01-21","SCA-2":6736.94},{"d":"2007-01-22","SCA-2":6735.27},{"d":"2007-01-23","SCA-2":6736.17},{"d":"2007-01-24","SCA-2":6735.63},{"d":"2007-01-25","SCA-2":6736.68},{"d":"2007-01-26","SCA-2":6737.12},{"d":"2007-01-27","SCA-2":6736.65},{"d":"2007-01-28","SCA-2":6735.73},{"d":"2007-01-29","SCA-2":6736.47},{"d":"2007-01-30","SCA-2":6736.04},{"d":"2007-01-31","SCA-2":6737.4},{"d":"2007-02-01","SCA-2":6737.42},{"d":"2007-02-02","SCA-2":6736.04},{"d":"2007-02-03","SCA-2":6734.96},{"d":"2007-02-04","SCA-2":6735.6},{"d":"2007-02-05","SCA-2":6735.45},{"d":"2007-02-06","SCA-2":6737.35},{"d":"2007-02-07","SCA-2":6735.58},{"d":"2007-02-08","SCA-2":6736.42},{"d":"2007-02-09","SCA-2":6737.53},{"d":"2007-02-10","SCA-2":6737.65},{"d":"2007-02-11","SCA-2":6737.68},{"d":"2007-02-12","SCA-2":6738.13},{"d":"2007-02-13","SCA-2":6736.96},{"d":"2007-02-14","SCA-2":6737.17},{"d":"2007-02-15","SCA-2":6737.45},{"d":"2007-02-16","SCA-2":6737.4},{"d":"2007-02-17","SCA-2":6737.17},{"d":"2007-02-18","SCA-2":6736.5},{"d":"2007-02-19","SCA-2":6736.35},{"d":"2007-02-20","SCA-2":6735.81},{"d":"2007-02-21","SCA-2":6736.12},{"d":"2007-02-22","SCA-2":6735.24},{"d":"2007-02-23","SCA-2":6734.96},{"d":"2007-02-24","SCA-2":6735.12},{"d":"2007-02-25","SCA-2":6735.09},{"d":"2007-02-26","SCA-2":6735.27},{"d":"2007-02-27","SCA-2":6735.12},{"d":"2007-02-28","SCA-2":6735.19},{"d":"2007-03-01","SCA-2":6735.17},{"d":"2007-03-02","SCA-2":6735.09},{"d":"2007-03-03","SCA-2":6734.91},{"d":"2007-03-04","SCA-2":6736.3},{"d":"2007-03-05","SCA-2":6736.07},{"d":"2007-03-06","SCA-2":6735.35},{"d":"2007-03-07","SCA-2":6734.94},{"d":"2007-03-08","SCA-2":6735.01},{"d":"2007-03-09","SCA-2":6735.01},{"d":"2007-03-10","SCA-2":6734.96},{"d":"2007-03-11","SCA-2":6734.68},{"d":"2007-03-12","SCA-2":6735.01},{"d":"2007-03-13","SCA-2":6734.81},{"d":"2007-03-14","SCA-2":6734.71},{"d":"2007-03-15","SCA-2":6734.91},{"d":"2007-03-16","SCA-2":6734.71},{"d":"2007-03-17","SCA-2":6734.47},{"d":"2007-03-18","SCA-2":6734.55},{"d":"2007-03-19","SCA-2":6734.22},{"d":"2007-03-20","SCA-2":6734.32},{"d":"2007-03-21","SCA-2":6734.32},{"d":"2007-03-22","SCA-2":6734.76},{"d":"2007-03-23","SCA-2":6735.09},{"d":"2007-03-24","SCA-2":6735.99},{"d":"2007-03-25","SCA-2":6735.4},{"d":"2007-03-26","SCA-2":6734.58},{"d":"2007-03-27","SCA-2":6734.32},{"d":"2007-03-28","SCA-2":6734.24},{"d":"2007-03-29","SCA-2":6734.63},{"d":"2007-03-30","SCA-2":6734.55},{"d":"2007-03-31","SCA-2":6734.53},{"d":"2007-04-01","SCA-2":6734.53},{"d":"2007-04-02","SCA-2":6734.6},{"d":"2007-04-03","SCA-2":6734.58},{"d":"2007-04-04","SCA-2":6734.24},{"d":"2007-04-05","SCA-2":6734.37},{"d":"2007-04-06","SCA-2":6734.58},{"d":"2007-04-07","SCA-2":6735.09},{"d":"2007-04-08","SCA-2":6734.7},{"d":"2007-04-09","SCA-2":6734.83},{"d":"2007-04-10","SCA-2":6734.63},{"d":"2007-04-11","SCA-2":6734.73},{"d":"2007-04-12","SCA-2":6734.78},{"d":"2007-04-13","SCA-2":6735.37},{"d":"2007-04-14","SCA-2":6734.83},{"d":"2007-04-15","SCA-2":6734.45},{"d":"2007-04-16","SCA-2":6734.37},{"d":"2007-04-17","SCA-2":6734.17},{"d":"2007-04-18","SCA-2":6734.17},{"d":"2007-04-19","SCA-2":null},{"d":"2007-04-23","SCA-2":6734.47},{"d":"2007-04-24","SCA-2":6734.35},{"d":"2007-04-25","SCA-2":6734.47},{"d":"2007-04-26","SCA-2":6734.63},{"d":"2007-04-27","SCA-2":6734.76},{"d":"2007-04-28","SCA-2":6734.83},{"d":"2007-04-29","SCA-2":6734.94},{"d":"2007-04-30","SCA-2":6735.04},{"d":"2007-05-01","SCA-2":6735.17},{"d":"2007-05-02","SCA-2":6734.83},{"d":"2007-05-03","SCA-2":6734.27},{"d":"2007-05-04","SCA-2":6734.2},{"d":"2007-05-05","SCA-2":6734.15},{"d":"2007-05-06","SCA-2":6734.09},{"d":"2007-05-07","SCA-2":6736.94},{"d":"2007-05-08","SCA-2":6735.66},{"d":"2007-05-09","SCA-2":6734.94},{"d":"2007-05-10","SCA-2":6734.76},{"d":"2007-05-11","SCA-2":6734.83},{"d":"2007-05-12","SCA-2":6735.81},{"d":"2007-05-13","SCA-2":6735.14},{"d":"2007-05-14","SCA-2":6734.78},{"d":"2007-05-15","SCA-2":6734.53},{"d":"2007-05-16","SCA-2":6734.76},{"d":"2007-05-17","SCA-2":6735.19},{"d":"2007-05-18","SCA-2":6735.4},{"d":"2007-05-19","SCA-2":6735.4},{"d":"2007-05-20","SCA-2":6734.86},{"d":"2007-05-21","SCA-2":6734.53},{"d":"2007-05-22","SCA-2":6734.4},{"d":"2007-05-23","SCA-2":6734.32},{"d":"2007-05-24","SCA-2":6734.37},{"d":"2007-05-25","SCA-2":6734.4},{"d":"2007-05-26","SCA-2":6734.42},{"d":"2007-05-27","SCA-2":6734.12},{"d":"2007-05-28","SCA-2":6734.78},{"d":"2007-05-29","SCA-2":6734.7},{"d":"2007-05-30","SCA-2":6734.32},{"d":"2007-05-31","SCA-2":6734.12},{"d":"2007-06-01","SCA-2":6734.09},{"d":"2007-06-02","SCA-2":6734.06},{"d":"2007-06-03","SCA-2":6734.22},{"d":"2007-06-04","SCA-2":6734.37},{"d":"2007-06-05","SCA-2":6734.53},{"d":"2007-06-06","SCA-2":6734.68},{"d":"2007-06-07","SCA-2":6734.83},{"d":"2007-06-08","SCA-2":6734.99},{"d":"2007-06-09","SCA-2":6735.14},{"d":"2007-06-10","SCA-2":6734.83},{"d":"2007-06-11","SCA-2":6734.53},{"d":"2007-06-12","SCA-2":6734.17},{"d":"2007-06-13","SCA-2":6734.63},{"d":"2007-06-14","SCA-2":6735.14},{"d":"2007-06-15","SCA-2":6735.7},{"d":"2007-06-16","SCA-2":6734.68},{"d":"2007-06-17","SCA-2":6734.24},{"d":"2007-06-18","SCA-2":null},{"d":"2007-07-08","SCA-2":6734.5},{"d":"2007-07-09","SCA-2":6734.6},{"d":"2007-07-10","SCA-2":6734.71},{"d":"2007-07-11","SCA-2":6734.81},{"d":"2007-07-12","SCA-2":6734.91},{"d":"2007-07-13","SCA-2":6735.14},{"d":"2007-07-14","SCA-2":6736.22},{"d":"2007-07-15","SCA-2":6735.14},{"d":"2007-07-16","SCA-2":6734.19},{"d":"2007-07-17","SCA-2":6734.27},{"d":"2007-07-18","SCA-2":6734.35},{"d":"2007-07-19","SCA-2":6734.42},{"d":"2007-07-20","SCA-2":6734.5},{"d":"2007-07-21","SCA-2":6734.53},{"d":"2007-07-22","SCA-2":6734.14},{"d":"2007-07-23","SCA-2":6734.14},{"d":"2007-07-24","SCA-2":6734.12},{"d":"2007-07-25","SCA-2":6734.06},{"d":"2007-07-26","SCA-2":6734.35},{"d":"2007-07-27","SCA-2":6734.73},{"d":"2007-07-28","SCA-2":6735.14},{"d":"2007-07-29","SCA-2":6735.45},{"d":"2007-07-30","SCA-2":6735.04},{"d":"2007-07-31","SCA-2":6734.94},{"d":"2007-08-01","SCA-2":6734.83},{"d":"2007-08-02","SCA-2":6734.14},{"d":"2007-08-03","SCA-2":6734.83},{"d":"2007-08-04","SCA-2":6734.73},{"d":"2007-08-05","SCA-2":6734.47},{"d":"2007-08-06","SCA-2":6735.81},{"d":"2007-08-07","SCA-2":6734.68},{"d":"2007-08-08","SCA-2":6734.65},{"d":"2007-08-09","SCA-2":6734.63},{"d":"2007-08-10","SCA-2":6734.6},{"d":"2007-08-11","SCA-2":6734.58},{"d":"2007-08-12","SCA-2":6734.68},{"d":"2007-08-13","SCA-2":6735.35},{"d":"2007-08-14","SCA-2":6734.32},{"d":"2007-08-15","SCA-2":6734.63},{"d":"2007-08-16","SCA-2":6734.63},{"d":"2007-08-17","SCA-2":6735.73},{"d":"2007-08-18","SCA-2":6735.04},{"d":"2007-08-19","SCA-2":6734.63},{"d":"2007-08-20","SCA-2":6734.68},{"d":"2007-08-21","SCA-2":6734.71},{"d":"2007-08-22","SCA-2":6734.73},{"d":"2007-08-23","SCA-2":6734.76},{"d":"2007-08-24","SCA-2":6734.78},{"d":"2007-08-25","SCA-2":6734.58},{"d":"2007-08-26","SCA-2":6735.86},{"d":"2007-08-27","SCA-2":6735.3},{"d":"2007-08-28","SCA-2":6735.45},{"d":"2007-08-29","SCA-2":6736.37},{"d":"2007-08-30","SCA-2":6734.5},{"d":"2007-08-31","SCA-2":6735.35},{"d":"2007-09-01","SCA-2":6735.71},{"d":"2007-09-02","SCA-2":6736.22},{"d":"2007-09-03","SCA-2":6734.5},{"d":"2007-09-04","SCA-2":6735.25},{"d":"2007-09-05","SCA-2":6736.73},{"d":"2007-09-06","SCA-2":6736.94},{"d":"2007-09-07","SCA-2":6734.6},{"d":"2007-09-08","SCA-2":6734.94},{"d":"2007-09-09","SCA-2":6735.27},{"d":"2007-09-10","SCA-2":6735.37},{"d":"2007-09-11","SCA-2":6734.6},{"d":"2007-09-12","SCA-2":6734.17},{"d":"2007-09-13","SCA-2":6734.09},{"d":"2007-09-14","SCA-2":6734.55},{"d":"2007-09-15","SCA-2":6734.35},{"d":"2007-09-16","SCA-2":6734.83},{"d":"2007-09-17","SCA-2":6735.04},{"d":"2007-09-18","SCA-2":6734.88},{"d":"2007-09-19","SCA-2":6738.22},{"d":"2007-09-20","SCA-2":6737.2},{"d":"2007-09-21","SCA-2":6736.14},{"d":"2007-09-22","SCA-2":6736.14},{"d":"2007-09-23","SCA-2":6736.91},{"d":"2007-09-24","SCA-2":6735.45},{"d":"2007-09-25","SCA-2":6734.58},{"d":"2007-09-26","SCA-2":6734.58},{"d":"2007-09-27","SCA-2":6734.71},{"d":"2007-09-28","SCA-2":6736.37},{"d":"2007-09-29","SCA-2":6736.83},{"d":"2007-09-30","SCA-2":6735.24},{"d":"2007-10-01","SCA-2":6736.83},{"d":"2007-10-02","SCA-2":6735.35},{"d":"2007-10-03","SCA-2":6734.96},{"d":"2007-10-04","SCA-2":6735.24},{"d":"2007-10-05","SCA-2":6735.5},{"d":"2007-10-06","SCA-2":6735.35},{"d":"2007-10-07","SCA-2":6735.04},{"d":"2007-10-08","SCA-2":6734.71},{"d":"2007-10-09","SCA-2":6735.48},{"d":"2007-10-10","SCA-2":6735.45},{"d":"2007-10-11","SCA-2":6734.47},{"d":"2007-10-12","SCA-2":6734.4},{"d":"2007-10-13","SCA-2":6734.45},{"d":"2007-10-14","SCA-2":6734.4},{"d":"2007-10-15","SCA-2":6734.42},{"d":"2007-10-16","SCA-2":6734.4},{"d":"2007-10-17","SCA-2":6734.32},{"d":"2007-10-18","SCA-2":6734.19},{"d":"2007-10-19","SCA-2":6734.71},{"d":"2007-10-20","SCA-2":6735.2},{"d":"2007-10-21","SCA-2":6735.22},{"d":"2007-10-22","SCA-2":6734.83},{"d":"2007-10-23","SCA-2":6734.58},{"d":"2007-10-24","SCA-2":6735.6},{"d":"2007-10-25","SCA-2":6735.63},{"d":"2007-10-26","SCA-2":6735.45},{"d":"2007-10-27","SCA-2":6734.6},{"d":"2007-10-28","SCA-2":6734.88},{"d":"2007-10-29","SCA-2":6735.91},{"d":"2007-10-30","SCA-2":6735.65},{"d":"2007-10-31","SCA-2":6734.75},{"d":"2007-11-01","SCA-2":6734.73},{"d":"2007-11-02","SCA-2":6735.7},{"d":"2007-11-03","SCA-2":6735.45},{"d":"2007-11-04","SCA-2":6735.35},{"d":"2007-11-05","SCA-2":6735.66},{"d":"2007-11-06","SCA-2":6735.45},{"d":"2007-11-07","SCA-2":6735.24},{"d":"2007-11-08","SCA-2":6735.09},{"d":"2007-11-09","SCA-2":6734.83},{"d":"2007-11-10","SCA-2":6734.63},{"d":"2007-11-11","SCA-2":6734.32},{"d":"2007-11-12","SCA-2":6734.88},{"d":"2007-11-13","SCA-2":6734.83},{"d":"2007-11-14","SCA-2":6734.68},{"d":"2007-11-15","SCA-2":6734.47},{"d":"2007-11-16","SCA-2":6734.37},{"d":"2007-11-17","SCA-2":6734.42},{"d":"2007-11-18","SCA-2":6734.58},{"d":"2007-11-19","SCA-2":6734.88},{"d":"2007-11-20","SCA-2":6734.73},{"d":"2007-11-21","SCA-2":6734.06},{"d":"2007-11-22","SCA-2":6734.04},{"d":"2007-11-23","SCA-2":6735.55},{"d":"2007-11-24","SCA-2":6736.01},{"d":"2007-11-25","SCA-2":6736.47},{"d":"2007-11-26","SCA-2":6736.78},{"d":"2007-11-27","SCA-2":6736.63},{"d":"2007-11-28","SCA-2":6736.12},{"d":"2007-11-29","SCA-2":6734.89},{"d":"2007-11-30","SCA-2":6737.86},{"d":"2007-12-01","SCA-2":6737.86},{"d":"2007-12-02","SCA-2":6737.94},{"d":"2007-12-03","SCA-2":6736.68},{"d":"2007-12-04","SCA-2":6735.86},{"d":"2007-12-05","SCA-2":6737.3},{"d":"2007-12-06","SCA-2":6736.17},{"d":"2007-12-07","SCA-2":6737.4},{"d":"2007-12-08","SCA-2":6737.48},{"d":"2007-12-09","SCA-2":6736.89},{"d":"2007-12-10","SCA-2":6737.2},{"d":"2007-12-11","SCA-2":6736.94},{"d":"2007-12-12","SCA-2":6735.71},{"d":"2007-12-13","SCA-2":6736.17},{"d":"2007-12-14","SCA-2":6737.35},{"d":"2007-12-15","SCA-2":6736.47},{"d":"2007-12-16","SCA-2":6736.68},{"d":"2007-12-17","SCA-2":6737.37},{"d":"2007-12-18","SCA-2":6736.83},{"d":"2007-12-19","SCA-2":6736.89},{"d":"2007-12-20","SCA-2":6736.42},{"d":"2007-12-21","SCA-2":6736.01},{"d":"2007-12-22","SCA-2":6735.45},{"d":"2007-12-23","SCA-2":6736.07},{"d":"2007-12-24","SCA-2":6736.07},{"d":"2007-12-25","SCA-2":6736.42},{"d":"2007-12-26","SCA-2":6736.7},{"d":"2007-12-27","SCA-2":6736.58},{"d":"2007-12-28","SCA-2":6735.04},{"d":"2007-12-29","SCA-2":6735.24},{"d":"2007-12-30","SCA-2":6735.65},{"d":"2007-12-31","SCA-2":6736.35},{"d":"2008-01-01","SCA-2":6734.17},{"d":"2008-01-02","SCA-2":6734.17},{"d":"2008-01-03","SCA-2":6734.63},{"d":"2008-01-04","SCA-2":6734.94},{"d":"2008-01-05","SCA-2":6737.04},{"d":"2008-01-06","SCA-2":6737.01},{"d":"2008-01-07","SCA-2":6736.68},{"d":"2008-01-08","SCA-2":6735.86},{"d":"2008-01-09","SCA-2":6735.5},{"d":"2008-01-10","SCA-2":6735.66},{"d":"2008-01-11","SCA-2":6735.66},{"d":"2008-01-12","SCA-2":6735.86},{"d":"2008-01-13","SCA-2":6735.76},{"d":"2008-01-14","SCA-2":6735.86},{"d":"2008-01-15","SCA-2":6735.35},{"d":"2008-01-16","SCA-2":6734.63},{"d":"2008-01-17","SCA-2":6734.37},{"d":"2008-01-18","SCA-2":6734.12},{"d":"2008-01-19","SCA-2":null},{"d":"2008-01-27","SCA-2":6734.4},{"d":"2008-01-28","SCA-2":6735.22},{"d":"2008-01-29","SCA-2":6735.22},{"d":"2008-01-30","SCA-2":6735.01},{"d":"2008-01-31","SCA-2":6734.55},{"d":"2008-02-01","SCA-2":6734.37},{"d":"2008-02-02","SCA-2":6734.86},{"d":"2008-02-03","SCA-2":6734.83},{"d":"2008-02-04","SCA-2":6735.32},{"d":"2008-02-05","SCA-2":6735.35},{"d":"2008-02-06","SCA-2":6734.99},{"d":"2008-02-07","SCA-2":6735.04},{"d":"2008-02-08","SCA-2":6735.17},{"d":"2008-02-09","SCA-2":6735.32},{"d":"2008-02-10","SCA-2":6735.53},{"d":"2008-02-11","SCA-2":6735.53},{"d":"2008-02-12","SCA-2":6735.37},{"d":"2008-02-13","SCA-2":6735.48},{"d":"2008-02-14","SCA-2":6735.66},{"d":"2008-02-15","SCA-2":6735.58},{"d":"2008-02-16","SCA-2":6734.76},{"d":"2008-02-17","SCA-2":6734.35},{"d":"2008-02-18","SCA-2":6735.22},{"d":"2008-02-19","SCA-2":6736.76},{"d":"2008-02-20","SCA-2":6736.73},{"d":"2008-02-21","SCA-2":6736.7},{"d":"2008-02-22","SCA-2":6736.6},{"d":"2008-02-23","SCA-2":6736.32},{"d":"2008-02-24","SCA-2":6737.53},{"d":"2008-02-25","SCA-2":6736.81},{"d":"2008-02-26","SCA-2":6734.96},{"d":"2008-02-27","SCA-2":6734.5},{"d":"2008-02-28","SCA-2":6735.01},{"d":"2008-02-29","SCA-2":6735.17},{"d":"2008-03-01","SCA-2":6735.22},{"d":"2008-03-02","SCA-2":6734.91},{"d":"2008-03-03","SCA-2":6734.78},{"d":"2008-03-04","SCA-2":6734.63}]
},
"vconcat":[
{
"width":2689,"height":325,
"layer":[
{"encoding":{
"x":{"field":"d","type":"temporal","scale":{"type":"utc","domain":[{"year":2006,"month":10,"date":1,"utc":true},{"year":2008,"month":4,"date":30,"utc":true}],"nice":false},"axis":{"values":[{"year":2006,"month":10,"date":1,"utc":true},{"year":2006,"month":11,"date":30,"utc":true},{"year":2007,"month":1,"date":30,"utc":true},{"year":2007,"month":4,"date":1,"utc":true},{"year":2007,"month":6,"date":1,"utc":true},{"year":2007,"month":8,"date":1,"utc":true},{"year":2007,"month":10,"date":1,"utc":true},{"year":2007,"month":12,"date":1,"utc":true},{"year":2008,"month":1,"date":31,"utc":true},{"year":2008,"month":3,"date":31,"utc":true}],"format":"%-m/%-d/%y","title":"Date","grid":true,"gridColor":"#000","gridDash":[6,4],"gridWidth":1,"labelPadding":8,"titlePadding":12}},
"y":{"field":"v","type":"quantitative","scale":{"domain":[6733.5,6738.5],"nice":false,"zero":false},"axis":{"title":"Water Level (ft)","values":[6733.5,6734.5,6735.5,6736.5,6737.5,6738.5],"format":".1f","grid":true,"gridColor":"#707070","gridWidth":1.5,"labelPadding":4,"titlePadding":12}},
"color":{"field":"s","type":"nominal","scale":{"domain":["SCA-2","Bottom of Screen","E123","E124","D123"],"range":["#000080","#FF00FF","#00FFFF","#FF6600","#800080"]},"legend":{"orient":"none","direction":"horizontal","legendX":1986,"legendY":-73,"columns":3,"columnPadding":13,"rowPadding":20,"title":null}},
"strokeDash":{"field":"s","type":"nominal","scale":{"domain":["SCA-2","Bottom of Screen","E123","E124","D123"],"range":[[1,0],[5,5],[1,0],[1,0],[1,0]]}},
"strokeWidth":{"field":"s","type":"nominal","scale":{"type":"ordinal","domain":["SCA-2","Bottom of Screen","E123","E124","D123"],"range":[1.5,3.5,1.5,1.5,1.5]}}},
"layer":[
{"data":{"name":"SCA2"},"transform":[{"fold":["SCA-2"],"as":["s","v"]}],"mark":{"type":"line","clip":true,"invalid":"break-paths-filter-domains"}},
{"data":{"values":[{"d":"2006-10-01","Bottom of Screen":6734.07},{"d":"2008-04-30","Bottom of Screen":6734.07}]},"transform":[{"fold":["Bottom of Screen"],"as":["s","v"]}],"mark":{"type":"line","clip":true}}
]},
{"encoding":{
"x":{"field":"d","type":"temporal","scale":{"type":"utc","domain":[{"year":2006,"month":10,"date":1,"utc":true},{"year":2008,"month":4,"date":30,"utc":true}],"nice":false},"axis":null},
"y":{"field":"v","type":"quantitative","scale":{"domain":[0,2],"nice":false,"zero":false},"axis":{"orient":"right","title":null,"values":[0,0.2,0.4,0.6,0.8,1,1.2,1.4,1.6,1.8,2],"format":"~g","grid":false,"labelPadding":4}},
"color":{"field":"s","type":"nominal","scale":{"domain":["SCA-2","Bottom of Screen","E123","E124","D123"],"range":["#000080","#FF00FF","#00FFFF","#FF6600","#800080"]},"legend":null},
"strokeDash":{"field":"s","type":"nominal","scale":{"domain":["SCA-2","Bottom of Screen","E123","E124","D123"],"range":[[1,0],[5,5],[1,0],[1,0],[1,0]]},"legend":null},
"strokeWidth":{"field":"s","type":"nominal","scale":{"type":"ordinal","domain":["SCA-2","Bottom of Screen","E123","E124","D123"],"range":[1.5,3.5,1.5,1.5,1.5]},"legend":null}},
"layer":[
{"data":{"name":"E123"},"transform":[{"fold":["E123"],"as":["s","v"]}],"mark":{"type":"line","clip":true}},
{"data":{"name":"E123"},"transform":[{"fold":["E123"],"as":["s","v"]}],"mark":{"type":"point","filled":false,"clip":true},"encoding":{"color":{"value":"#00FFFF"},"strokeDash":{"value":[1,0]},"strokeWidth":{"value":1.2},"shape":{"value":"M-1,-1L1,1M-1,1L1,-1"},"size":{"value":45},"opacity":{"value":1}}},
{"data":{"name":"E124"},"transform":[{"fold":["E124"],"as":["s","v"]}],"mark":{"type":"line","clip":true}},
{"data":{"name":"D123"},"transform":[{"fold":["D123"],"as":["s","v"]}],"mark":{"type":"line","clip":true,"invalid":"break-paths-filter-domains"}}
]},
{"layer":[
{"data":{"values":[{}]},"mark":{"type":"rect","filled":false,"stroke":"#000","strokeWidth":1.5},"encoding":{"x":{"datum":{"year":2006,"month":9,"date":9,"utc":true},"type":"temporal","scale":{"type":"utc","domain":[{"year":2006,"month":10,"date":1,"utc":true},{"year":2008,"month":4,"date":30,"utc":true}],"nice":false},"axis":null},"x2":{"datum":{"year":2008,"month":5,"date":7,"utc":true}},"y":{"datum":6739.67,"type":"quantitative","scale":{"domain":[6733.5,6738.5],"nice":false,"zero":false},"axis":null},"y2":{"datum":6732.28}}},
{"data":{"values":[{}]},"mark":{"type":"text","text":"d.","fontSize":26,"align":"left","baseline":"alphabetic","color":"#000"},"encoding":{"x":{"datum":{"year":2006,"month":9,"date":2,"utc":true},"type":"temporal","scale":{"type":"utc","domain":[{"year":2006,"month":10,"date":1,"utc":true},{"year":2008,"month":4,"date":30,"utc":true}],"nice":false},"axis":null},"y":{"datum":6732.21,"type":"quantitative","scale":{"domain":[6733.5,6738.5],"nice":false,"zero":false},"axis":null}}},
{"data":{"values":[{}]},"mark":{"type":"text","text":"SCA-2","fontSize":15,"fontWeight":"bold","align":"center","baseline":"alphabetic","color":"#000"},"encoding":{"x":{"datum":{"year":2007,"month":7,"date":11,"utc":true},"type":"temporal","scale":{"type":"utc","domain":[{"year":2006,"month":10,"date":1,"utc":true},{"year":2008,"month":4,"date":30,"utc":true}],"nice":false},"axis":null},"y":{"datum":6739.24,"type":"quantitative","scale":{"domain":[6733.5,6738.5],"nice":false,"zero":false},"axis":null}}}
]}
],
"resolve":{"scale":{"y":"independent"}}
},
{
"width":2689,"height":318,
"layer":[
{"encoding":{
"x":{"field":"d","type":"temporal","scale":{"type":"utc","domain":[{"year":2006,"month":10,"date":1,"utc":true},{"year":2008,"month":4,"date":30,"utc":true}],"nice":false},"axis":{"values":[{"year":2006,"month":10,"date":1,"utc":true},{"year":2006,"month":11,"date":30,"utc":true},{"year":2007,"month":1,"date":30,"utc":true},{"year":2007,"month":4,"date":1,"utc":true},{"year":2007,"month":6,"date":1,"utc":true},{"year":2007,"month":8,"date":1,"utc":true},{"year":2007,"month":10,"date":1,"utc":true},{"year":2007,"month":12,"date":1,"utc":true},{"year":2008,"month":1,"date":31,"utc":true},{"year":2008,"month":3,"date":31,"utc":true}],"format":"%-m/%-d/%y","title":"Date","grid":true,"gridColor":"#333","gridDash":[6,4],"gridWidth":1,"labelPadding":8,"titlePadding":12}},
"y":{"field":"v","type":"quantitative","scale":{"domain":[6680,6695],"nice":false,"zero":false},"axis":{"title":"Water Level (ft)","values":[6680,6685,6690,6695],"format":".1f","grid":true,"gridColor":"#555","gridWidth":1.5,"labelPadding":4,"titlePadding":12}},
"color":{"field":"s","type":"nominal","scale":{"domain":["SCA-3","Bottom of Screen","SCP-2a","SCP-2b","E124"],"range":["#FF0000","#FF00FF","#2020E0","#00FFFF","#FF6600"]},"legend":{"orient":"none","direction":"horizontal","legendX":1504,"legendY":-66,"columns":2,"columnPadding":50,"rowPadding":18,"padding":8,"title":null}},
"strokeDash":{"field":"s","type":"nominal","scale":{"domain":["SCA-3","Bottom of Screen","SCP-2a","SCP-2b","E124"],"range":[[1,0],[5,5],[1,0],[1,0],[1,0]]}},
"strokeWidth":{"field":"s","type":"nominal","scale":{"type":"ordinal","domain":["SCA-3","Bottom of Screen","SCP-2a","SCP-2b","E124"],"range":[1.5,3.5,1.5,1.5,3.5]}}},
"layer":[
{"data":{"values":[{"d":"2007-12-09","SCA-3":6691.36},{"d":"2007-12-12","SCA-3":6692.48},{"d":"2007-12-17","SCA-3":6692.48},{"d":"2007-12-19","SCA-3":6692.38},{"d":"2007-12-21","SCA-3":6692.27},{"d":"2007-12-26","SCA-3":6692.04},{"d":"2007-12-29","SCA-3":6691.72},{"d":"2008-01-02","SCA-3":6691.28},{"d":"2008-02-26","SCA-3":6691.28},{"d":"2008-02-29","SCA-3":6691.64},{"d":"2008-03-03","SCA-3":6692.27},{"d":"2008-03-07","SCA-3":6692.75},{"d":"2008-03-10","SCA-3":6693.45},{"d":"2008-03-14","SCA-3":6694.32}]},"transform":[{"fold":["SCA-3"],"as":["s","v"]}],"mark":{"type":"line","clip":true}},
{"data":{"values":[{"d":"2006-10-01","Bottom of Screen":6691.2},{"d":"2008-04-30","Bottom of Screen":6691.2}]},"transform":[{"fold":["Bottom of Screen"],"as":["s","v"]}],"mark":{"type":"line","clip":true}},
{"data":{"values":[{"d":"2006-10-13","SCP-2a":6688.77},{"d":"2006-10-15","SCP-2a":6688.8},{"d":"2006-10-17","SCP-2a":6689.13},{"d":"2006-10-19","SCP-2a":6689.24},{"d":"2006-10-21","SCP-2a":6689.24},{"d":"2006-10-25","SCP-2a":6689.13},{"d":"2006-10-28","SCP-2a":6689.0},{"d":"2006-11-01","SCP-2a":6688.81},{"d":"2006-11-06","SCP-2a":6688.77},{"d":"2006-11-10","SCP-2a":6688.65},{"d":"2006-11-16","SCP-2a":6688.5},{"d":"2006-11-21","SCP-2a":6688.3},{"d":"2006-11-26","SCP-2a":6688.1},{"d":"2006-11-30","SCP-2a":6688.14},{"d":"2006-12-03","SCP-2a":6688.06},{"d":"2006-12-08","SCP-2a":6687.55},{"d":"2006-12-12","SCP-2a":6687.0},{"d":"2006-12-16","SCP-2a":6686.37},{"d":"2006-12-21","SCP-2a":6685.59},{"d":"2006-12-27","SCP-2a":6685.27},{"d":"2007-01-01","SCP-2a":6685.11},{"d":"2007-01-07","SCP-2a":6685.04},{"d":"2007-01-12","SCP-2a":6685.15},{"d":"2007-01-19","SCP-2a":6685.59},{"d":"2007-01-26","SCP-2a":6685.98},{"d":"2007-01-30","SCP-2a":6686.22},{"d":"2007-02-06","SCP-2a":6686.48},{"d":"2007-02-11","SCP-2a":6686.66},{"d":"2007-02-16","SCP-2a":6687.0},{"d":"2007-02-22","SCP-2a":6687.71},{"d":"2007-02-27","SCP-2a":6688.65},{"d":"2007-03-03","SCP-2a":6689.13},{"d":"2007-03-06","SCP-2a":6689.24},{"d":"2007-03-10","SCP-2a":6689.7},{"d":"2007-03-13","SCP-2a":6689.65},{"d":"2007-03-17","SCP-2a":6689.55},{"d":"2007-03-21","SCP-2a":6689.41},{"d":"2007-03-23","SCP-2a":6689.44},{"d":"2007-03-25","SCP-2a":6690.2},{"d":"2007-03-27","SCP-2a":6690.26},{"d":"2007-03-30","SCP-2a":6690.18},{"d":"2007-04-01","SCP-2a":6690.15},{"d":"2007-04-06","SCP-2a":6689.87},{"d":"2007-04-13","SCP-2a":6689.41},{"d":"2007-04-17","SCP-2a":6689.68},{"d":"2007-04-24","SCP-2a":6689.28},{"d":"2007-05-01","SCP-2a":6688.58},{"d":"2007-05-05","SCP-2a":6688.54},{"d":"2007-05-08","SCP-2a":6688.32},{"d":"2007-05-10","SCP-2a":6688.5},{"d":"2007-05-16","SCP-2a":6688.54},{"d":"2007-05-21","SCP-2a":6688.37},{"d":"2007-05-27","SCP-2a":6688.18},{"d":"2007-06-01","SCP-2a":6687.95},{"d":"2007-06-07","SCP-2a":6687.47},{"d":"2007-06-13","SCP-2a":6686.84},{"d":"2007-06-17","SCP-2a":6686.37},{"d":"2007-06-21","SCP-2a":6686.29},{"d":"2007-06-25","SCP-2a":6685.98},{"d":"2007-07-01","SCP-2a":6685.27},{"d":"2007-07-06","SCP-2a":6684.64},{"d":"2007-07-12","SCP-2a":6684.09},{"d":"2007-07-17","SCP-2a":6683.7},{"d":"2007-07-24","SCP-2a":6683.46},{"d":"2007-07-30","SCP-2a":6683.26},{"d":"2007-08-01","SCP-2a":6683.18},{"d":"2007-08-06","SCP-2a":6683.07},{"d":"2007-08-12","SCP-2a":6683.19},{"d":"2007-08-17","SCP-2a":6683.1},{"d":"2007-08-23","SCP-2a":6683.23},{"d":"2007-08-27","SCP-2a":6683.23},{"d":"2007-08-30","SCP-2a":6683.49},{"d":"2007-09-02","SCP-2a":6684.48},{"d":"2007-09-04","SCP-2a":6685.74},{"d":"2007-09-08","SCP-2a":6687.0},{"d":"2007-09-13","SCP-2a":6687.55},{"d":"2007-09-17","SCP-2a":6687.71},{"d":"2007-09-20","SCP-2a":6687.71},{"d":"2007-09-24","SCP-2a":6688.5},{"d":"2007-09-26","SCP-2a":6689.05},{"d":"2007-09-30","SCP-2a":6689.33},{"d":"2007-10-05","SCP-2a":6690.07},{"d":"2007-10-09","SCP-2a":6690.12},{"d":"2007-10-14","SCP-2a":6690.02},{"d":"2007-10-18","SCP-2a":6689.88},{"d":"2007-10-22","SCP-2a":6689.52},{"d":"2007-10-25","SCP-2a":6689.41},{"d":"2007-11-01","SCP-2a":6689.52},{"d":"2007-11-11","SCP-2a":6689.55},{"d":"2007-11-16","SCP-2a":6689.33},{"d":"2007-11-20","SCP-2a":6688.97},{"d":"2007-11-24","SCP-2a":6688.73},{"d":"2007-11-30","SCP-2a":6689.55},{"d":"2007-12-01","SCP-2a":6689.57},{"d":"2007-12-04","SCP-2a":6691.49},{"d":"2007-12-08","SCP-2a":6692.04},{"d":"2007-12-12","SCP-2a":6693.3},{"d":"2007-12-15","SCP-2a":6693.45},{"d":"2007-12-20","SCP-2a":6693.33},{"d":"2007-12-25","SCP-2a":6692.98},{"d":"2007-12-31","SCP-2a":6692.51},{"d":"2008-01-04","SCP-2a":6691.88},{"d":"2008-01-08","SCP-2a":6691.4},{"d":"2008-01-11","SCP-2a":6691.09},{"d":"2008-01-13","SCP-2a":6690.39},{"d":"2008-01-14","SCP-2a":6687.0},{"d":"2008-01-15","SCP-2a":6685.35},{"d":"2008-01-17","SCP-2a":6684.64},{"d":"2008-01-19","SCP-2a":6686.77},{"d":"2008-01-21","SCP-2a":6685.27},{"d":"2008-01-23","SCP-2a":6688.5},{"d":"2008-01-25","SCP-2a":6688.7},{"d":"2008-01-30","SCP-2a":6688.45},{"d":"2008-02-03","SCP-2a":6688.18},{"d":"2008-02-09","SCP-2a":6688.06},{"d":"2008-02-12","SCP-2a":6688.14},{"d":"2008-02-14","SCP-2a":6688.34},{"d":"2008-02-19","SCP-2a":6689.52},{"d":"2008-02-22","SCP-2a":6690.15},{"d":"2008-02-26","SCP-2a":6690.78},{"d":"2008-02-28","SCP-2a":6691.49},{"d":"2008-03-03","SCP-2a":6692.35},{"d":"2008-03-07","SCP-2a":6692.9},{"d":"2008-03-13","SCP-2a":6693.77}]},"transform":[{"fold":["SCP-2a"],"as":["s","v"]}],"mark":{"type":"line","clip":true}},
{"data":{"values":[{"d":"2006-10-13","SCP-2b":6686.4},{"d":"2006-10-15","SCP-2b":6686.53},{"d":"2006-10-17","SCP-2b":6686.8},{"d":"2006-10-20","SCP-2b":6686.85},{"d":"2006-10-25","SCP-2b":6686.72},{"d":"2006-10-29","SCP-2b":6686.53},{"d":"2006-11-02","SCP-2b":6686.33},{"d":"2006-11-09","SCP-2b":6686.33},{"d":"2006-11-16","SCP-2b":6686.18},{"d":"2006-11-21","SCP-2b":6685.98},{"d":"2006-11-25","SCP-2b":6685.85},{"d":"2006-11-30","SCP-2b":6685.9},{"d":"2006-12-04","SCP-2b":6685.62},{"d":"2006-12-10","SCP-2b":6685.11},{"d":"2006-12-14","SCP-2b":6684.48},{"d":"2006-12-18","SCP-2b":6684.01},{"d":"2006-12-23","SCP-2b":6683.38},{"d":"2006-12-28","SCP-2b":6683.18},{"d":"2007-01-02","SCP-2b":6683.02},{"d":"2007-01-07","SCP-2b":6682.94},{"d":"2007-01-14","SCP-2b":6683.07},{"d":"2007-01-19","SCP-2b":6683.35},{"d":"2007-01-25","SCP-2b":6683.67},{"d":"2007-01-30","SCP-2b":6684.04},{"d":"2007-02-06","SCP-2b":6684.25},{"d":"2007-02-12","SCP-2b":6684.52},{"d":"2007-02-18","SCP-2b":6685.11},{"d":"2007-02-22","SCP-2b":6685.4},{"d":"2007-02-27","SCP-2b":6686.53},{"d":"2007-03-03","SCP-2b":6686.85},{"d":"2007-03-06","SCP-2b":6686.97},{"d":"2007-03-09","SCP-2b":6687.4},{"d":"2007-03-13","SCP-2b":6687.38},{"d":"2007-03-17","SCP-2b":6687.24},{"d":"2007-03-21","SCP-2b":6687.05},{"d":"2007-03-23","SCP-2b":6687.16},{"d":"2007-03-26","SCP-2b":6687.79},{"d":"2007-03-30","SCP-2b":6687.74},{"d":"2007-04-01","SCP-2b":6687.71},{"d":"2007-04-06","SCP-2b":6687.4},{"d":"2007-04-13","SCP-2b":6687.03},{"d":"2007-04-17","SCP-2b":6687.29},{"d":"2007-04-24","SCP-2b":6686.85},{"d":"2007-05-01","SCP-2b":6686.29},{"d":"2007-05-08","SCP-2b":6686.06},{"d":"2007-05-10","SCP-2b":6686.22},{"d":"2007-05-16","SCP-2b":6686.29},{"d":"2007-05-21","SCP-2b":6686.06},{"d":"2007-05-27","SCP-2b":6685.74},{"d":"2007-06-01","SCP-2b":6685.51},{"d":"2007-06-06","SCP-2b":6685.27},{"d":"2007-06-11","SCP-2b":6684.64},{"d":"2007-06-17","SCP-2b":6684.25},{"d":"2007-06-22","SCP-2b":6684.09},{"d":"2007-06-26","SCP-2b":6683.78},{"d":"2007-07-01","SCP-2b":6683.15},{"d":"2007-07-07","SCP-2b":6682.6},{"d":"2007-07-12","SCP-2b":6682.05},{"d":"2007-07-18","SCP-2b":6681.73},{"d":"2007-07-23","SCP-2b":6681.49},{"d":"2007-07-29","SCP-2b":6681.34},{"d":"2007-08-01","SCP-2b":6681.21},{"d":"2007-08-06","SCP-2b":6681.13},{"d":"2007-08-12","SCP-2b":6681.21},{"d":"2007-08-18","SCP-2b":6681.13},{"d":"2007-08-23","SCP-2b":6681.26},{"d":"2007-08-27","SCP-2b":6681.26},{"d":"2007-08-30","SCP-2b":6681.57},{"d":"2007-08-31","SCP-2b":6682.28},{"d":"2007-09-02","SCP-2b":6682.75},{"d":"2007-09-04","SCP-2b":6683.86},{"d":"2007-09-06","SCP-2b":6684.09},{"d":"2007-09-08","SCP-2b":6684.8},{"d":"2007-09-11","SCP-2b":6685.11},{"d":"2007-09-17","SCP-2b":6685.43},{"d":"2007-09-20","SCP-2b":6685.43},{"d":"2007-09-24","SCP-2b":6686.14},{"d":"2007-09-26","SCP-2b":6686.61},{"d":"2007-09-30","SCP-2b":6686.85},{"d":"2007-10-05","SCP-2b":6687.6},{"d":"2007-10-09","SCP-2b":6687.47},{"d":"2007-10-14","SCP-2b":6687.44},{"d":"2007-10-19","SCP-2b":6687.16},{"d":"2007-10-24","SCP-2b":6686.85},{"d":"2007-10-31","SCP-2b":6686.94},{"d":"2007-11-06","SCP-2b":6687.0},{"d":"2007-11-11","SCP-2b":6687.08},{"d":"2007-11-16","SCP-2b":6686.85},{"d":"2007-11-20","SCP-2b":6686.53},{"d":"2007-11-24","SCP-2b":6686.4},{"d":"2007-11-30","SCP-2b":6686.06},{"d":"2007-12-02","SCP-2b":6686.37},{"d":"2007-12-05","SCP-2b":6687.79},{"d":"2007-12-09","SCP-2b":6688.14},{"d":"2007-12-13","SCP-2b":6689.41},{"d":"2007-12-16","SCP-2b":6689.44},{"d":"2007-12-20","SCP-2b":6689.39},{"d":"2007-12-26","SCP-2b":6689.05},{"d":"2008-01-01","SCP-2b":6688.42},{"d":"2008-01-07","SCP-2b":6687.79},{"d":"2008-01-14","SCP-2b":6687.08},{"d":"2008-01-21","SCP-2b":6686.37},{"d":"2008-01-28","SCP-2b":6685.74},{"d":"2008-01-31","SCP-2b":6685.59},{"d":"2008-02-05","SCP-2b":6685.46},{"d":"2008-02-08","SCP-2b":6685.35},{"d":"2008-02-11","SCP-2b":6685.46},{"d":"2008-02-15","SCP-2b":6685.74},{"d":"2008-02-17","SCP-2b":6686.53},{"d":"2008-02-21","SCP-2b":6687.32},{"d":"2008-02-24","SCP-2b":6687.95},{"d":"2008-02-28","SCP-2b":6688.73},{"d":"2008-03-04","SCP-2b":6689.28},{"d":"2008-03-08","SCP-2b":6689.99},{"d":"2008-03-13","SCP-2b":6691.17}]},"transform":[{"fold":["SCP-2b"],"as":["s","v"]}],"mark":{"type":"line","clip":true}}
]},
{"encoding":{
"x":{"field":"d","type":"temporal","scale":{"type":"utc","domain":[{"year":2006,"month":10,"date":1,"utc":true},{"year":2008,"month":4,"date":30,"utc":true}],"nice":false},"axis":null},
"y":{"field":"v","type":"quantitative","scale":{"domain":[0,1.2],"nice":false,"zero":false},"axis":{"orient":"right","title":null,"values":[0,0.2,0.4,0.6,0.8,1,1.2],"format":"~g","grid":false,"labelPadding":4}},
"color":{"field":"s","type":"nominal","scale":{"domain":["SCA-3","Bottom of Screen","SCP-2a","SCP-2b","E124"],"range":["#FF0000","#FF00FF","#2020E0","#00FFFF","#FF6600"]},"legend":null},
"strokeDash":{"field":"s","type":"nominal","scale":{"domain":["SCA-3","Bottom of Screen","SCP-2a","SCP-2b","E124"],"range":[[1,0],[5,5],[1,0],[1,0],[1,0]]},"legend":null},
"strokeWidth":{"field":"s","type":"nominal","scale":{"type":"ordinal","domain":["SCA-3","Bottom of Screen","SCP-2a","SCP-2b","E124"],"range":[1.5,3.5,1.5,1.5,3.5]},"legend":null}},
"layer":[
{"data":{"name":"E124"},"transform":[{"fold":["E124"],"as":["s","v"]}],"mark":{"type":"line","clip":true}}
]},
{"layer":[
{"data":{"values":[{}]},"mark":{"type":"rect","filled":false,"stroke":"#000","strokeWidth":1.5},"encoding":{"x":{"datum":{"year":2006,"month":9,"date":9,"utc":true},"type":"temporal","scale":{"type":"utc","domain":[{"year":2006,"month":10,"date":1,"utc":true},{"year":2008,"month":4,"date":30,"utc":true}],"nice":false},"axis":null},"x2":{"datum":{"year":2008,"month":5,"date":7,"utc":true}},"y":{"datum":6698.82,"type":"quantitative","scale":{"domain":[6680,6695],"nice":false,"zero":false},"axis":null},"y2":{"datum":6676.18}}},
{"data":{"values":[{}]},"mark":{"type":"text","text":"e.","fontSize":26,"align":"left","baseline":"alphabetic","color":"#000"},"encoding":{"x":{"datum":{"year":2006,"month":9,"date":2,"utc":true},"type":"temporal","scale":{"type":"utc","domain":[{"year":2006,"month":10,"date":1,"utc":true},{"year":2008,"month":4,"date":30,"utc":true}],"nice":false},"axis":null},"y":{"datum":6675.85,"type":"quantitative","scale":{"domain":[6680,6695],"nice":false,"zero":false},"axis":null}}},
{"data":{"values":[{}]},"mark":{"type":"text","text":"SCA-3","fontSize":15,"fontWeight":"bold","align":"center","baseline":"alphabetic","color":"#000"},"encoding":{"x":{"datum":{"year":2007,"month":7,"date":11,"utc":true},"type":"temporal","scale":{"type":"utc","domain":[{"year":2006,"month":10,"date":1,"utc":true},{"year":2008,"month":4,"date":30,"utc":true}],"nice":false},"axis":null},"y":{"datum":6697.45,"type":"quantitative","scale":{"domain":[6680,6695],"nice":false,"zero":false},"axis":null}}}
]}
],
"resolve":{"scale":{"y":"independent"}}
},
{
"width":2689,"height":318,
"layer":[
{"encoding":{
"x":{"field":"d","type":"temporal","scale":{"type":"utc","domain":[{"year":2006,"month":10,"date":1,"utc":true},{"year":2008,"month":4,"date":30,"utc":true}],"nice":false},"axis":{"values":[{"year":2006,"month":10,"date":1,"utc":true},{"year":2006,"month":11,"date":30,"utc":true},{"year":2007,"month":1,"date":30,"utc":true},{"year":2007,"month":4,"date":1,"utc":true},{"year":2007,"month":6,"date":1,"utc":true},{"year":2007,"month":8,"date":1,"utc":true},{"year":2007,"month":10,"date":1,"utc":true},{"year":2007,"month":12,"date":1,"utc":true},{"year":2008,"month":1,"date":31,"utc":true},{"year":2008,"month":3,"date":31,"utc":true}],"format":"%-m/%-d/%y","title":"Date","grid":true,"gridColor":"#222","gridDash":[6,4],"gridWidth":1,"labelPadding":8,"titlePadding":12}},
"y":{"field":"v","type":"quantitative","scale":{"domain":[6661,6668],"nice":false,"zero":false},"axis":{"title":"Water Level (ft)","values":[6661,6662,6663,6664,6665,6666,6667,6668],"format":".1f","grid":true,"gridColor":"#606060","gridWidth":1.5,"labelPadding":4,"titlePadding":12}},
"color":{"field":"s","type":"nominal","scale":{"domain":["SCA-4","Bottom of Screen","SCP-1a","SCP-1b","SCP-1c","E123","D123","E124"],"range":["#000080","#FF00FF","#008000","#FF0000","#993399","#1A1A99","#993366","#FF6600"]},"legend":{"orient":"none","direction":"horizontal","legendX":1772,"legendY":-76,"columns":3,"columnPadding":26,"rowPadding":9,"title":null}},
"strokeDash":{"field":"s","type":"nominal","scale":{"domain":["SCA-4","Bottom of Screen","SCP-1a","SCP-1b","SCP-1c","E123","D123","E124"],"range":[[1,0],[5,5],[1,0],[1,0],[1,0],[1,0],[1,0],[1,0]]}},
"strokeWidth":{"field":"s","type":"nominal","scale":{"type":"ordinal","domain":["SCA-4","Bottom of Screen","SCP-1a","SCP-1b","SCP-1c","E123","D123","E124"],"range":[5,3.5,1.5,1.5,1.5,1.5,1.5,4]}}},
"layer":[
{"data":{"values":[{"d":"2006-10-12","SCA-4":6665.3},{"d":"2006-10-13","SCA-4":6665.37},{"d":"2006-10-15","SCA-4":6665.41},{"d":"2006-10-17","SCA-4":6665.35},{"d":"2006-10-19","SCA-4":6665.19},{"d":"2006-10-21","SCA-4":6664.93},{"d":"2006-10-24","SCA-4":6664.66},{"d":"2006-10-27","SCA-4":6664.38},{"d":"2006-10-29","SCA-4":6664.16},{"d":"2006-10-31","SCA-4":6663.98},{"d":"2006-11-03","SCA-4":6663.87},{"d":"2006-11-07","SCA-4":6663.72},{"d":"2006-11-11","SCA-4":6663.64},{"d":"2006-11-15","SCA-4":6663.54},{"d":"2006-11-19","SCA-4":6663.43},{"d":"2006-11-23","SCA-4":6663.32},{"d":"2006-11-27","SCA-4":6663.21},{"d":"2006-11-30","SCA-4":6663.12},{"d":"2006-12-03","SCA-4":6663.03},{"d":"2006-12-08","SCA-4":6662.92},{"d":"2006-12-12","SCA-4":6662.83},{"d":"2006-12-16","SCA-4":6662.73},{"d":"2006-12-20","SCA-4":6662.66},{"d":"2006-12-24","SCA-4":6662.54},{"d":"2006-12-27","SCA-4":6662.49},{"d":"2006-12-30","SCA-4":6662.37},{"d":"2007-01-01","SCA-4":6662.22},{"d":"2007-01-02","SCA-4":6661.97},{"d":"2007-01-03","SCA-4":6661.86},{"d":"2007-01-04","SCA-4":6661.82},{"d":"2007-01-05","SCA-4":null},{"d":"2007-03-18","SCA-4":6661.82},{"d":"2007-03-20","SCA-4":6662.63},{"d":"2007-03-21","SCA-4":6662.81},{"d":"2007-03-23","SCA-4":6663.03},{"d":"2007-03-24","SCA-4":6663.43},{"d":"2007-03-25","SCA-4":6664.31},{"d":"2007-03-27","SCA-4":6664.49},{"d":"2007-03-30","SCA-4":6664.54},{"d":"2007-04-01","SCA-4":6664.54},{"d":"2007-04-03","SCA-4":6664.42},{"d":"2007-04-06","SCA-4":6664.31},{"d":"2007-04-10","SCA-4":6664.16},{"d":"2007-04-13","SCA-4":6664.02},{"d":"2007-04-16","SCA-4":6663.93},{"d":"2007-04-20","SCA-4":6663.88},{"d":"2007-04-24","SCA-4":6663.81},{"d":"2007-04-27","SCA-4":6663.74},{"d":"2007-05-01","SCA-4":6663.69},{"d":"2007-05-04","SCA-4":6663.72},{"d":"2007-05-07","SCA-4":6663.66},{"d":"2007-05-09","SCA-4":6663.75},{"d":"2007-05-12","SCA-4":6664.02},{"d":"2007-05-16","SCA-4":6664.16},{"d":"2007-05-17","SCA-4":6664.18},{"d":"2007-05-21","SCA-4":6664.02},{"d":"2007-05-24","SCA-4":6663.83},{"d":"2007-05-28","SCA-4":6663.65},{"d":"2007-06-01","SCA-4":6663.5},{"d":"2007-06-06","SCA-4":6663.37},{"d":"2007-06-10","SCA-4":6663.25},{"d":"2007-06-14","SCA-4":6663.14},{"d":"2007-06-16","SCA-4":6663.03},{"d":"2007-06-18","SCA-4":6662.66},{"d":"2007-06-19","SCA-4":6663.14},{"d":"2007-06-22","SCA-4":6663.23},{"d":"2007-06-25","SCA-4":6663.1},{"d":"2007-06-29","SCA-4":6662.95},{"d":"2007-07-04","SCA-4":6662.81},{"d":"2007-07-08","SCA-4":6662.66},{"d":"2007-07-13","SCA-4":6662.52},{"d":"2007-07-17","SCA-4":6662.46},{"d":"2007-07-21","SCA-4":6662.44},{"d":"2007-07-25","SCA-4":6662.41},{"d":"2007-07-29","SCA-4":6662.3},{"d":"2007-08-01","SCA-4":6662.13},{"d":"2007-08-04","SCA-4":6662.19},{"d":"2007-08-08","SCA-4":6662.16},{"d":"2007-08-12","SCA-4":6662.19},{"d":"2007-08-17","SCA-4":6662.2},{"d":"2007-08-23","SCA-4":6662.17},{"d":"2007-08-26","SCA-4":6662.11},{"d":"2007-08-28","SCA-4":6662.05},{"d":"2007-08-30","SCA-4":6663.36},{"d":"2007-08-31","SCA-4":6664.02},{"d":"2007-09-01","SCA-4":6664.38},{"d":"2007-09-03","SCA-4":6664.89},{"d":"2007-09-05","SCA-4":6665.7},{"d":"2007-09-06","SCA-4":6665.41},{"d":"2007-09-09","SCA-4":6666.54},{"d":"2007-09-11","SCA-4":6665.99},{"d":"2007-09-13","SCA-4":6665.33},{"d":"2007-09-17","SCA-4":6664.67},{"d":"2007-09-19","SCA-4":6664.38},{"d":"2007-09-20","SCA-4":6664.31},{"d":"2007-09-22","SCA-4":6664.67},{"d":"2007-09-24","SCA-4":6664.89},{"d":"2007-09-26","SCA-4":6665.48},{"d":"2007-09-28","SCA-4":6665.33},{"d":"2007-09-30","SCA-4":6665.2},{"d":"2007-10-02","SCA-4":6665.47},{"d":"2007-10-03","SCA-4":6665.41},{"d":"2007-10-06","SCA-4":6665.19},{"d":"2007-10-09","SCA-4":6664.89},{"d":"2007-10-13","SCA-4":6664.71},{"d":"2007-10-15","SCA-4":6664.46},{"d":"2007-10-18","SCA-4":6664.27},{"d":"2007-10-21","SCA-4":6664.09},{"d":"2007-10-23","SCA-4":6663.96},{"d":"2007-10-25","SCA-4":6663.87},{"d":"2007-10-28","SCA-4":6663.8},{"d":"2007-10-31","SCA-4":6663.72},{"d":"2007-11-03","SCA-4":6663.65},{"d":"2007-11-05","SCA-4":6663.55},{"d":"2007-11-08","SCA-4":6663.5},{"d":"2007-11-10","SCA-4":6663.46},{"d":"2007-11-12","SCA-4":6663.25},{"d":"2007-11-13","SCA-4":6663.43},{"d":"2007-11-16","SCA-4":6663.36},{"d":"2007-11-20","SCA-4":6663.32},{"d":"2007-11-23","SCA-4":6663.28},{"d":"2007-11-27","SCA-4":6663.21},{"d":"2007-11-29","SCA-4":6663.17},{"d":"2007-11-30","SCA-4":6663.94},{"d":"2007-12-01","SCA-4":6665.77},{"d":"2007-12-03","SCA-4":6666.25},{"d":"2007-12-05","SCA-4":6666.47},{"d":"2007-12-07","SCA-4":6666.32},{"d":"2007-12-08","SCA-4":6666.58},{"d":"2007-12-11","SCA-4":6666.94},{"d":"2007-12-13","SCA-4":6666.72},{"d":"2007-12-16","SCA-4":6666.43},{"d":"2007-12-20","SCA-4":6666.03},{"d":"2007-12-24","SCA-4":6665.74},{"d":"2007-12-27","SCA-4":6665.52},{"d":"2007-12-31","SCA-4":6665.26},{"d":"2008-01-04","SCA-4":6665.08},{"d":"2008-01-06","SCA-4":6665.06},{"d":"2008-01-08","SCA-4":6665.19},{"d":"2008-01-09","SCA-4":6665.08},{"d":"2008-01-13","SCA-4":6664.82},{"d":"2008-01-17","SCA-4":6664.6},{"d":"2008-01-20","SCA-4":6664.38},{"d":"2008-01-24","SCA-4":6664.2},{"d":"2008-01-27","SCA-4":6664.05},{"d":"2008-01-28","SCA-4":6665.74},{"d":"2008-01-30","SCA-4":6665.26},{"d":"2008-02-02","SCA-4":6664.67},{"d":"2008-02-05","SCA-4":6664.31},{"d":"2008-02-08","SCA-4":6663.98},{"d":"2008-02-10","SCA-4":6663.83},{"d":"2008-02-11","SCA-4":6663.54},{"d":"2008-02-12","SCA-4":6663.87},{"d":"2008-02-13","SCA-4":6663.94},{"d":"2008-02-14","SCA-4":6665.4},{"d":"2008-02-16","SCA-4":6667.13},{"d":"2008-02-17","SCA-4":6666.51},{"d":"2008-02-19","SCA-4":6665.85},{"d":"2008-02-22","SCA-4":6665.33},{"d":"2008-02-23","SCA-4":6666.06},{"d":"2008-02-25","SCA-4":6666.91},{"d":"2008-02-27","SCA-4":6666.51},{"d":"2008-02-29","SCA-4":6666.21},{"d":"2008-03-03","SCA-4":6665.99},{"d":"2008-03-05","SCA-4":6665.92},{"d":"2008-03-08","SCA-4":6665.74},{"d":"2008-03-12","SCA-4":6665.58}]},"transform":[{"fold":["SCA-4"],"as":["s","v"]}],"mark":{"type":"line","clip":true,"invalid":"break-paths-filter-domains"}},
{"data":{"values":[{"d":"2006-10-01","Bottom of Screen":6661.71},{"d":"2008-04-30","Bottom of Screen":6661.71}]},"transform":[{"fold":["Bottom of Screen"],"as":["s","v"]}],"mark":{"type":"line","clip":true}},
{"data":{"values":[{"d":"2006-10-13","SCP-1a":6665.33},{"d":"2006-10-16","SCP-1a":6665.22},{"d":"2006-10-19","SCP-1a":6665.05},{"d":"2006-10-22","SCP-1a":6664.86},{"d":"2006-10-23","SCP-1a":null},{"d":"2007-09-03","SCP-1a":6665.63},{"d":"2007-09-04","SCP-1a":6665.93},{"d":"2007-09-05","SCP-1a":6665.75},{"d":"2007-09-09","SCP-1a":6666.81},{"d":"2007-09-11","SCP-1a":6666.25},{"d":"2007-09-13","SCP-1a":6665.7},{"d":"2007-09-17","SCP-1a":6665.05},{"d":"2007-09-19","SCP-1a":6664.9},{"d":"2007-09-20","SCP-1a":null},{"d":"2007-09-22","SCP-1a":6664.95},{"d":"2007-09-25","SCP-1a":6665.75},{"d":"2007-09-28","SCP-1a":6665.55},{"d":"2007-10-02","SCP-1a":6665.87},{"d":"2007-10-05","SCP-1a":6665.7},{"d":"2007-10-09","SCP-1a":6665.3},{"d":"2007-10-14","SCP-1a":6664.85},{"d":"2007-10-15","SCP-1a":null},{"d":"2007-12-01","SCP-1a":6665.88},{"d":"2007-12-02","SCP-1a":6666.3},{"d":"2007-12-04","SCP-1a":6666.65},{"d":"2007-12-05","SCP-1a":6666.8},{"d":"2007-12-07","SCP-1a":6666.65},{"d":"2007-12-10","SCP-1a":6667.22},{"d":"2007-12-13","SCP-1a":6666.98},{"d":"2007-12-17","SCP-1a":6666.5},{"d":"2007-12-21","SCP-1a":6666.12},{"d":"2007-12-25","SCP-1a":6665.82},{"d":"2007-12-31","SCP-1a":6665.45},{"d":"2008-01-05","SCP-1a":6665.22},{"d":"2008-01-07","SCP-1a":6665.58},{"d":"2008-01-11","SCP-1a":6665.28},{"d":"2008-01-15","SCP-1a":6665.06},{"d":"2008-01-17","SCP-1a":6664.95},{"d":"2008-01-18","SCP-1a":null},{"d":"2008-01-28","SCP-1a":6665.9},{"d":"2008-01-29","SCP-1a":6666.22},{"d":"2008-02-01","SCP-1a":6665.5},{"d":"2008-02-03","SCP-1a":6665.1},{"d":"2008-02-04","SCP-1a":null},{"d":"2008-02-14","SCP-1a":6665.48},{"d":"2008-02-16","SCP-1a":6667.28},{"d":"2008-02-18","SCP-1a":6666.62},{"d":"2008-02-20","SCP-1a":6666.05},{"d":"2008-02-22","SCP-1a":6665.68},{"d":"2008-02-25","SCP-1a":6667.2},{"d":"2008-02-28","SCP-1a":6666.85},{"d":"2008-03-02","SCP-1a":6666.62},{"d":"2008-03-06","SCP-1a":6666.4},{"d":"2008-03-10","SCP-1a":6666.18},{"d":"2008-03-13","SCP-1a":6665.98}]},"transform":[{"fold":["SCP-1a"],"as":["s","v"]}],"mark":{"type":"line","clip":true,"invalid":"break-paths-filter-domains"}},
{"data":{"values":[{"d":"2006-10-13","SCP-1b":6665.22},{"d":"2006-10-15","SCP-1b":6665.26},{"d":"2006-10-18","SCP-1b":6665.12},{"d":"2006-10-20","SCP-1b":6664.98},{"d":"2006-10-23","SCP-1b":6664.85},{"d":"2006-10-27","SCP-1b":6664.53},{"d":"2006-11-02","SCP-1b":6664.27},{"d":"2006-11-06","SCP-1b":6664.13},{"d":"2006-11-11","SCP-1b":6663.98},{"d":"2006-11-16","SCP-1b":6663.83},{"d":"2006-11-22","SCP-1b":6663.69},{"d":"2006-11-27","SCP-1b":6663.58},{"d":"2006-12-01","SCP-1b":6663.43},{"d":"2006-12-04","SCP-1b":6663.36},{"d":"2006-12-05","SCP-1b":null},{"d":"2007-03-24","SCP-1b":6663.76},{"d":"2007-03-27","SCP-1b":6664.67},{"d":"2007-03-30","SCP-1b":6664.7},{"d":"2007-04-01","SCP-1b":6664.69},{"d":"2007-04-05","SCP-1b":6664.53},{"d":"2007-04-09","SCP-1b":6664.41},{"d":"2007-04-13","SCP-1b":6664.24},{"d":"2007-04-18","SCP-1b":6664.16},{"d":"2007-04-24","SCP-1b":6664.09},{"d":"2007-04-29","SCP-1b":6664.02},{"d":"2007-05-02","SCP-1b":6663.98},{"d":"2007-05-05","SCP-1b":6664.0},{"d":"2007-05-07","SCP-1b":6663.98},{"d":"2007-05-10","SCP-1b":6664.2},{"d":"2007-05-16","SCP-1b":6664.35},{"d":"2007-05-21","SCP-1b":6664.16},{"d":"2007-05-26","SCP-1b":6663.94},{"d":"2007-06-01","SCP-1b":6663.76},{"d":"2007-06-07","SCP-1b":6663.58},{"d":"2007-06-12","SCP-1b":6663.36},{"d":"2007-06-16","SCP-1b":6663.2},{"d":"2007-06-19","SCP-1b":6663.32},{"d":"2007-06-21","SCP-1b":6663.32},{"d":"2007-06-22","SCP-1b":null},{"d":"2007-08-31","SCP-1b":6664.24},{"d":"2007-09-01","SCP-1b":6664.3},{"d":"2007-09-03","SCP-1b":6664.68},{"d":"2007-09-04","SCP-1b":6665.74},{"d":"2007-09-06","SCP-1b":6665.56},{"d":"2007-09-08","SCP-1b":6666.65},{"d":"2007-09-11","SCP-1b":6666.07},{"d":"2007-09-15","SCP-1b":6665.19},{"d":"2007-09-19","SCP-1b":6664.57},{"d":"2007-09-21","SCP-1b":6664.82},{"d":"2007-09-25","SCP-1b":6665.66},{"d":"2007-09-28","SCP-1b":6665.41},{"d":"2007-10-02","SCP-1b":6665.7},{"d":"2007-10-08","SCP-1b":6665.19},{"d":"2007-10-10","SCP-1b":6665.08},{"d":"2007-10-15","SCP-1b":6664.75},{"d":"2007-10-21","SCP-1b":6664.38},{"d":"2007-10-24","SCP-1b":6664.27},{"d":"2007-10-28","SCP-1b":6664.16},{"d":"2007-11-03","SCP-1b":6663.98},{"d":"2007-11-08","SCP-1b":6663.85},{"d":"2007-11-14","SCP-1b":6663.76},{"d":"2007-11-19","SCP-1b":6663.69},{"d":"2007-11-24","SCP-1b":6663.61},{"d":"2007-11-29","SCP-1b":6663.54},{"d":"2007-12-01","SCP-1b":6664.82},{"d":"2007-12-02","SCP-1b":6666.1},{"d":"2007-12-04","SCP-1b":6666.58},{"d":"2007-12-05","SCP-1b":6666.72},{"d":"2007-12-07","SCP-1b":6666.58},{"d":"2007-12-10","SCP-1b":6667.13},{"d":"2007-12-13","SCP-1b":6666.87},{"d":"2007-12-17","SCP-1b":6666.36},{"d":"2007-12-21","SCP-1b":6665.99},{"d":"2007-12-25","SCP-1b":6665.7},{"d":"2007-12-31","SCP-1b":6665.37},{"d":"2008-01-05","SCP-1b":6665.13},{"d":"2008-01-07","SCP-1b":6665.48},{"d":"2008-01-11","SCP-1b":6665.19},{"d":"2008-01-15","SCP-1b":6664.97},{"d":"2008-01-20","SCP-1b":6664.75},{"d":"2008-01-24","SCP-1b":6664.57},{"d":"2008-01-27","SCP-1b":6664.4},{"d":"2008-01-29","SCP-1b":6666.03},{"d":"2008-02-01","SCP-1b":6665.41},{"d":"2008-02-04","SCP-1b":6664.97},{"d":"2008-02-08","SCP-1b":6664.49},{"d":"2008-02-11","SCP-1b":6664.13},{"d":"2008-02-13","SCP-1b":6664.31},{"d":"2008-02-14","SCP-1b":6665.99},{"d":"2008-02-16","SCP-1b":6667.2},{"d":"2008-02-18","SCP-1b":6666.58},{"d":"2008-02-20","SCP-1b":6665.99},{"d":"2008-02-22","SCP-1b":6665.63},{"d":"2008-02-25","SCP-1b":6667.13},{"d":"2008-02-28","SCP-1b":6666.8},{"d":"2008-03-02","SCP-1b":6666.51},{"d":"2008-03-06","SCP-1b":6666.29},{"d":"2008-03-10","SCP-1b":6666.07},{"d":"2008-03-13","SCP-1b":6665.92}]},"transform":[{"fold":["SCP-1b"],"as":["s","v"]}],"mark":{"type":"line","clip":true,"invalid":"break-paths-filter-domains"}},
{"data":{"values":[{"d":"2006-10-13","SCP-1c":6665.47},{"d":"2006-10-16","SCP-1c":6665.37},{"d":"2006-10-20","SCP-1c":6665.15},{"d":"2006-10-24","SCP-1c":6664.89},{"d":"2006-10-28","SCP-1c":6664.64},{"d":"2006-11-02","SCP-1c":6664.38},{"d":"2006-11-08","SCP-1c":6664.16},{"d":"2006-11-13","SCP-1c":6663.94},{"d":"2006-11-19","SCP-1c":6663.72},{"d":"2006-11-24","SCP-1c":6663.58},{"d":"2006-11-29","SCP-1c":6663.43},{"d":"2006-12-05","SCP-1c":6663.21},{"d":"2006-12-10","SCP-1c":6663.06},{"d":"2006-12-16","SCP-1c":6662.84},{"d":"2006-12-20","SCP-1c":6662.63},{"d":"2006-12-24","SCP-1c":6662.41},{"d":"2006-12-28","SCP-1c":6662.08},{"d":"2007-01-01","SCP-1c":6661.71},{"d":"2007-01-02","SCP-1c":null},{"d":"2007-03-16","SCP-1c":6661.82},{"d":"2007-03-18","SCP-1c":6662.63},{"d":"2007-03-20","SCP-1c":6662.99},{"d":"2007-03-23","SCP-1c":6663.43},{"d":"2007-03-25","SCP-1c":6664.24},{"d":"2007-03-27","SCP-1c":6664.71},{"d":"2007-03-30","SCP-1c":6664.77},{"d":"2007-04-01","SCP-1c":6664.76},{"d":"2007-04-05","SCP-1c":6664.62},{"d":"2007-04-09","SCP-1c":6664.49},{"d":"2007-04-13","SCP-1c":6664.31},{"d":"2007-04-18","SCP-1c":6664.24},{"d":"2007-04-24","SCP-1c":6664.16},{"d":"2007-04-29","SCP-1c":6664.05},{"d":"2007-05-02","SCP-1c":6664.05},{"d":"2007-05-05","SCP-1c":6664.05},{"d":"2007-05-07","SCP-1c":6664.02},{"d":"2007-05-10","SCP-1c":6664.35},{"d":"2007-05-16","SCP-1c":6664.51},{"d":"2007-05-21","SCP-1c":6664.31},{"d":"2007-05-26","SCP-1c":6664.05},{"d":"2007-06-01","SCP-1c":6663.87},{"d":"2007-06-07","SCP-1c":6663.61},{"d":"2007-06-12","SCP-1c":6663.39},{"d":"2007-06-16","SCP-1c":6663.17},{"d":"2007-06-21","SCP-1c":6663.36},{"d":"2007-06-26","SCP-1c":6663.14},{"d":"2007-07-01","SCP-1c":6662.81},{"d":"2007-07-05","SCP-1c":6662.48},{"d":"2007-07-08","SCP-1c":6662.19},{"d":"2007-07-11","SCP-1c":6661.82},{"d":"2007-07-12","SCP-1c":null},{"d":"2007-08-31","SCP-1c":6664.1},{"d":"2007-09-01","SCP-1c":6664.15},{"d":"2007-09-04","SCP-1c":6665.66},{"d":"2007-09-06","SCP-1c":6665.56},{"d":"2007-09-08","SCP-1c":6666.61},{"d":"2007-09-11","SCP-1c":6666.12},{"d":"2007-09-15","SCP-1c":6665.24},{"d":"2007-09-19","SCP-1c":6664.55},{"d":"2007-09-21","SCP-1c":6664.9},{"d":"2007-09-25","SCP-1c":6665.73},{"d":"2007-09-28","SCP-1c":6665.52},{"d":"2007-10-02","SCP-1c":6665.81},{"d":"2007-10-08","SCP-1c":6665.3},{"d":"2007-10-10","SCP-1c":6665.1},{"d":"2007-10-15","SCP-1c":6664.82},{"d":"2007-10-21","SCP-1c":6664.49},{"d":"2007-10-24","SCP-1c":6664.33},{"d":"2007-10-28","SCP-1c":6664.2},{"d":"2007-11-03","SCP-1c":6663.98},{"d":"2007-11-08","SCP-1c":6663.8},{"d":"2007-11-14","SCP-1c":6663.69},{"d":"2007-11-19","SCP-1c":6663.61},{"d":"2007-11-24","SCP-1c":6663.54},{"d":"2007-11-29","SCP-1c":6663.47},{"d":"2007-12-01","SCP-1c":6664.9},{"d":"2007-12-02","SCP-1c":6666.4},{"d":"2007-12-04","SCP-1c":6666.8},{"d":"2007-12-05","SCP-1c":6666.94},{"d":"2007-12-07","SCP-1c":6666.84},{"d":"2007-12-10","SCP-1c":6667.35},{"d":"2007-12-13","SCP-1c":6667.13},{"d":"2007-12-17","SCP-1c":6666.69},{"d":"2007-12-21","SCP-1c":6666.32},{"d":"2007-12-25","SCP-1c":6665.99},{"d":"2007-12-31","SCP-1c":6665.59},{"d":"2008-01-05","SCP-1c":6665.37},{"d":"2008-01-07","SCP-1c":6665.74},{"d":"2008-01-11","SCP-1c":6665.44},{"d":"2008-01-15","SCP-1c":6665.22},{"d":"2008-01-20","SCP-1c":6664.97},{"d":"2008-01-24","SCP-1c":6664.75},{"d":"2008-01-27","SCP-1c":6664.6},{"d":"2008-01-29","SCP-1c":6666.29},{"d":"2008-02-01","SCP-1c":6665.55},{"d":"2008-02-04","SCP-1c":6665.08},{"d":"2008-02-08","SCP-1c":6664.6},{"d":"2008-02-11","SCP-1c":6664.27},{"d":"2008-02-13","SCP-1c":6664.46},{"d":"2008-02-14","SCP-1c":6666.14},{"d":"2008-02-16","SCP-1c":6667.38},{"d":"2008-02-18","SCP-1c":6666.65},{"d":"2008-02-20","SCP-1c":6666.14},{"d":"2008-02-22","SCP-1c":6665.74},{"d":"2008-02-25","SCP-1c":6667.27},{"d":"2008-02-28","SCP-1c":6666.94},{"d":"2008-03-02","SCP-1c":6666.71},{"d":"2008-03-06","SCP-1c":6666.54},{"d":"2008-03-10","SCP-1c":6666.32},{"d":"2008-03-13","SCP-1c":6666.15}]},"transform":[{"fold":["SCP-1c"],"as":["s","v"]}],"mark":{"type":"line","clip":true,"invalid":"break-paths-filter-domains"}}
]},
{"encoding":{
"x":{"field":"d","type":"temporal","scale":{"type":"utc","domain":[{"year":2006,"month":10,"date":1,"utc":true},{"year":2008,"month":4,"date":30,"utc":true}],"nice":false},"axis":null},
"y":{"field":"v","type":"quantitative","scale":{"domain":[0,6],"nice":false,"zero":false},"axis":{"orient":"right","title":null,"values":[0,1,2,3,4,5,6],"format":"~g","grid":false,"labelPadding":4}},
"color":{"field":"s","type":"nominal","scale":{"domain":["SCA-4","Bottom of Screen","SCP-1a","SCP-1b","SCP-1c","E123","D123","E124"],"range":["#000080","#FF00FF","#008000","#FF0000","#993399","#1A1A99","#993366","#FF6600"]},"legend":null},
"strokeDash":{"field":"s","type":"nominal","scale":{"domain":["SCA-4","Bottom of Screen","SCP-1a","SCP-1b","SCP-1c","E123","D123","E124"],"range":[[1,0],[5,5],[1,0],[1,0],[1,0],[1,0],[1,0],[1,0]]},"legend":null},
"strokeWidth":{"field":"s","type":"nominal","scale":{"type":"ordinal","domain":["SCA-4","Bottom of Screen","SCP-1a","SCP-1b","SCP-1c","E123","D123","E124"],"range":[5,3.5,1.5,1.5,1.5,1.5,1.5,4]},"legend":null}},
"layer":[
{"data":{"name":"E123"},"transform":[{"fold":["E123"],"as":["s","v"]}],"mark":{"type":"line","clip":true}},
{"data":{"name":"D123"},"transform":[{"fold":["D123"],"as":["s","v"]}],"mark":{"type":"line","clip":true,"invalid":"break-paths-filter-domains"}},
{"data":{"name":"E124"},"transform":[{"fold":["E124"],"as":["s","v"]}],"mark":{"type":"line","clip":true}}
]},
{"layer":[
{"data":{"values":[{}]},"mark":{"type":"rect","filled":false,"stroke":"#000","strokeWidth":1.5},"encoding":{"x":{"datum":{"year":2006,"month":9,"date":9,"utc":true},"type":"temporal","scale":{"type":"utc","domain":[{"year":2006,"month":10,"date":1,"utc":true},{"year":2008,"month":4,"date":30,"utc":true}],"nice":false},"axis":null},"x2":{"datum":{"year":2008,"month":5,"date":6,"utc":true}},"y":{"datum":6669.72,"type":"quantitative","scale":{"domain":[6661,6668],"nice":false,"zero":false},"axis":null},"y2":{"datum":6659.25}}},
{"data":{"values":[{}]},"mark":{"type":"text","text":"f","fontSize":26,"align":"left","baseline":"alphabetic","color":"#000"},"encoding":{"x":{"datum":{"year":2006,"month":9,"date":2,"utc":true},"type":"temporal","scale":{"type":"utc","domain":[{"year":2006,"month":10,"date":1,"utc":true},{"year":2008,"month":4,"date":30,"utc":true}],"nice":false},"axis":null},"y":{"datum":6659.3,"type":"quantitative","scale":{"domain":[6661,6668],"nice":false,"zero":false},"axis":null}}},
{"data":{"values":[{}]},"mark":{"type":"text","text":"SCA-4","fontSize":15,"fontWeight":"bold","align":"center","baseline":"alphabetic","color":"#000"},"encoding":{"x":{"datum":{"year":2007,"month":7,"date":11,"utc":true},"type":"temporal","scale":{"type":"utc","domain":[{"year":2006,"month":10,"date":1,"utc":true},{"year":2008,"month":4,"date":30,"utc":true}],"nice":false},"axis":null},"y":{"datum":6669.1,"type":"quantitative","scale":{"domain":[6661,6668],"nice":false,"zero":false},"axis":null}}},
{"data":{"values":[{}]},"mark":{"type":"text","text":"Note scale change","fontSize":15,"align":"left","baseline":"alphabetic","color":"#000"},"encoding":{"x":{"datum":{"year":2006,"month":10,"date":4,"utc":true},"type":"temporal","scale":{"type":"utc","domain":[{"year":2006,"month":10,"date":1,"utc":true},{"year":2008,"month":4,"date":30,"utc":true}],"nice":false},"axis":null},"y":{"datum":6668.73,"type":"quantitative","scale":{"domain":[6661,6668],"nice":false,"zero":false},"axis":null}}}
]}
],
"resolve":{"scale":{"y":"independent"}}
}
],
"config":{
"font":"Liberation Sans",
"view":{"stroke":null},
"axis":{"labelFont":"Liberation Sans","labelFontSize":15,"labelColor":"#000","titleFont":"Liberation Sans","titleFontSize":15,"titleFontWeight":"bold","titleColor":"#000","domainColor":"#000","domainWidth":1.2,"tickColor":"#000","tickSize":6},
"legend":{"strokeColor":"#000","fillColor":"#fff","padding":7,"symbolType":"stroke","symbolSize":2304,"labelFont":"Liberation Sans","labelFontSize":16,"labelColor":"#000","clipHeight":16,"labelOffset":5,"gridAlign":"all","labelLimit":400},
"line":{"strokeJoin":"round"},
"text":{"font":"Liberation Sans"}
}
}
